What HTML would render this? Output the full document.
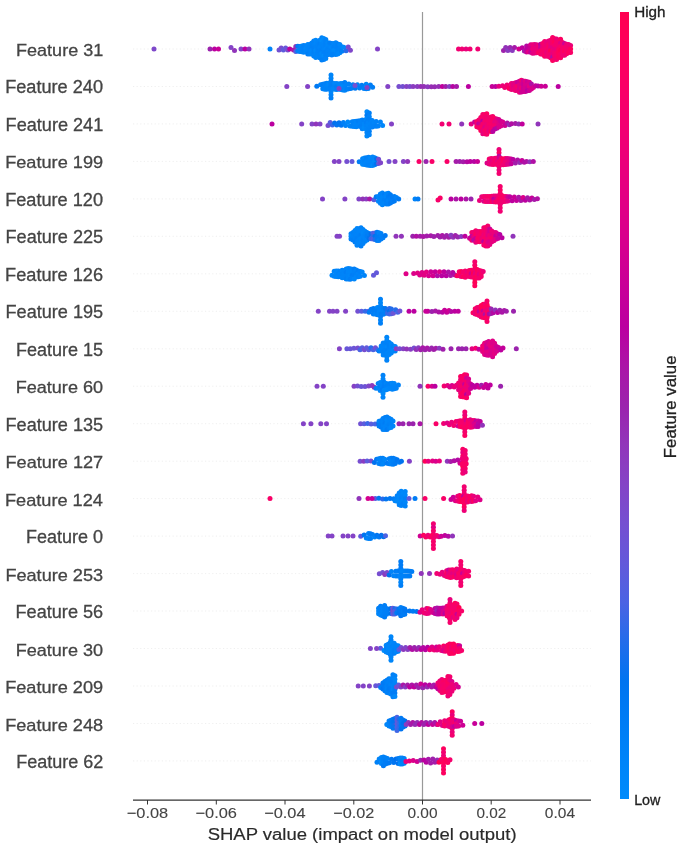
<!DOCTYPE html>
<html><head><meta charset="utf-8"><style>
html,body{margin:0;padding:0;background:#fff;}
body{width:685px;height:854px;overflow:hidden;}
svg{display:block;font-family:"Liberation Sans",sans-serif;filter:blur(0.45px);}
</style></head><body>
<svg width="685" height="854" viewBox="0 0 685 854">
<defs><linearGradient id="cb" x1="0" y1="0" x2="0" y2="1">
<stop offset="0.000" stop-color="#ff0051"/>
<stop offset="0.050" stop-color="#fe005c"/>
<stop offset="0.100" stop-color="#f90067"/>
<stop offset="0.150" stop-color="#f20072"/>
<stop offset="0.200" stop-color="#e9007c"/>
<stop offset="0.250" stop-color="#e00086"/>
<stop offset="0.300" stop-color="#d5008f"/>
<stop offset="0.350" stop-color="#c80098"/>
<stop offset="0.400" stop-color="#bb00a0"/>
<stop offset="0.450" stop-color="#ab15a7"/>
<stop offset="0.500" stop-color="#9b23ad"/>
<stop offset="0.550" stop-color="#9135ba"/>
<stop offset="0.600" stop-color="#8443c6"/>
<stop offset="0.650" stop-color="#754fd1"/>
<stop offset="0.700" stop-color="#6359da"/>
<stop offset="0.750" stop-color="#4b63e3"/>
<stop offset="0.800" stop-color="#236cea"/>
<stop offset="0.850" stop-color="#0074f0"/>
<stop offset="0.900" stop-color="#007cf5"/>
<stop offset="0.950" stop-color="#0084f9"/>
<stop offset="1.000" stop-color="#008bfb"/>
</linearGradient></defs>
<g stroke="#ebebeb" stroke-width="0.8" stroke-dasharray="1.2 2.4">
<line x1="133" x2="591" y1="49.0" y2="49.0"/>
<line x1="133" x2="591" y1="86.5" y2="86.5"/>
<line x1="133" x2="591" y1="123.9" y2="123.9"/>
<line x1="133" x2="591" y1="161.4" y2="161.4"/>
<line x1="133" x2="591" y1="198.9" y2="198.9"/>
<line x1="133" x2="591" y1="236.3" y2="236.3"/>
<line x1="133" x2="591" y1="273.8" y2="273.8"/>
<line x1="133" x2="591" y1="311.3" y2="311.3"/>
<line x1="133" x2="591" y1="348.8" y2="348.8"/>
<line x1="133" x2="591" y1="386.2" y2="386.2"/>
<line x1="133" x2="591" y1="423.7" y2="423.7"/>
<line x1="133" x2="591" y1="461.2" y2="461.2"/>
<line x1="133" x2="591" y1="498.6" y2="498.6"/>
<line x1="133" x2="591" y1="536.1" y2="536.1"/>
<line x1="133" x2="591" y1="573.6" y2="573.6"/>
<line x1="133" x2="591" y1="611.0" y2="611.0"/>
<line x1="133" x2="591" y1="648.5" y2="648.5"/>
<line x1="133" x2="591" y1="686.0" y2="686.0"/>
<line x1="133" x2="591" y1="723.5" y2="723.5"/>
<line x1="133" x2="591" y1="760.9" y2="760.9"/>
</g>
<line x1="422.5" x2="422.5" y1="12" y2="800" stroke="#999" stroke-width="1.2"/>
<g>
<circle cx="279.0" cy="50.1" r="2.50" fill="#7250d2"/>
<circle cx="281.2" cy="47.9" r="2.50" fill="#784dcf"/>
<circle cx="283.4" cy="50.1" r="2.50" fill="#5e5cdc"/>
<circle cx="285.6" cy="47.9" r="2.50" fill="#6857d8"/>
<circle cx="287.8" cy="50.1" r="2.50" fill="#794cce"/>
<circle cx="289.8" cy="49.0" r="2.50" fill="#bd009e"/>
<circle cx="293.6" cy="49.9" r="2.50" fill="#a819a8"/>
<circle cx="295.8" cy="46.5" r="2.50" fill="#9035ba"/>
<circle cx="295.8" cy="51.5" r="2.50" fill="#565fe0"/>
<circle cx="297.8" cy="46.3" r="2.50" fill="#007af4"/>
<circle cx="297.8" cy="51.0" r="2.50" fill="#0081f8"/>
<circle cx="299.8" cy="46.4" r="2.50" fill="#007ff6"/>
<circle cx="299.8" cy="49.0" r="2.50" fill="#0083f8"/>
<circle cx="299.8" cy="51.6" r="2.50" fill="#0083f8"/>
<circle cx="301.8" cy="46.1" r="2.50" fill="#0086f9"/>
<circle cx="301.8" cy="48.9" r="2.50" fill="#0083f8"/>
<circle cx="301.8" cy="51.7" r="2.50" fill="#0083f8"/>
<circle cx="303.8" cy="45.5" r="2.50" fill="#0080f7"/>
<circle cx="303.8" cy="48.9" r="2.50" fill="#0081f8"/>
<circle cx="303.8" cy="52.3" r="2.50" fill="#0082f8"/>
<circle cx="305.8" cy="45.8" r="2.50" fill="#0083f8"/>
<circle cx="305.8" cy="48.7" r="2.50" fill="#0087fa"/>
<circle cx="305.8" cy="51.7" r="2.50" fill="#0085f9"/>
<circle cx="307.8" cy="44.6" r="2.50" fill="#0087fa"/>
<circle cx="307.8" cy="47.7" r="2.50" fill="#0084f9"/>
<circle cx="307.8" cy="50.8" r="2.50" fill="#0084f9"/>
<circle cx="307.8" cy="53.9" r="2.50" fill="#007ef6"/>
<circle cx="309.8" cy="44.5" r="2.50" fill="#0084f9"/>
<circle cx="309.8" cy="47.6" r="2.50" fill="#0083f8"/>
<circle cx="309.8" cy="50.7" r="2.50" fill="#0082f8"/>
<circle cx="309.8" cy="53.9" r="2.50" fill="#0082f8"/>
<circle cx="311.8" cy="43.0" r="2.50" fill="#0082f8"/>
<circle cx="311.8" cy="46.7" r="2.50" fill="#0080f7"/>
<circle cx="311.8" cy="50.4" r="2.50" fill="#0087fa"/>
<circle cx="311.8" cy="54.0" r="2.50" fill="#0086f9"/>
<circle cx="313.8" cy="41.0" r="2.50" fill="#0082f8"/>
<circle cx="313.8" cy="44.7" r="2.50" fill="#0083f8"/>
<circle cx="313.8" cy="48.5" r="2.50" fill="#0080f7"/>
<circle cx="313.8" cy="52.3" r="2.50" fill="#0081f7"/>
<circle cx="313.8" cy="56.1" r="2.50" fill="#0084f9"/>
<circle cx="315.8" cy="40.3" r="2.50" fill="#0087fa"/>
<circle cx="315.8" cy="43.7" r="2.50" fill="#0086fa"/>
<circle cx="315.8" cy="47.1" r="2.50" fill="#0083f8"/>
<circle cx="315.8" cy="50.5" r="2.50" fill="#0089fa"/>
<circle cx="315.8" cy="54.0" r="2.50" fill="#0085f9"/>
<circle cx="315.8" cy="57.4" r="2.50" fill="#0083f8"/>
<circle cx="317.8" cy="41.8" r="2.50" fill="#0084f9"/>
<circle cx="317.8" cy="45.4" r="2.50" fill="#0083f8"/>
<circle cx="317.8" cy="49.1" r="2.50" fill="#0081f8"/>
<circle cx="317.8" cy="52.7" r="2.50" fill="#0082f8"/>
<circle cx="317.8" cy="56.4" r="2.50" fill="#0085f9"/>
<circle cx="319.8" cy="40.2" r="2.50" fill="#0085f9"/>
<circle cx="319.8" cy="43.7" r="2.50" fill="#0080f7"/>
<circle cx="319.8" cy="47.3" r="2.50" fill="#0084f9"/>
<circle cx="319.8" cy="50.8" r="2.50" fill="#0082f8"/>
<circle cx="319.8" cy="54.3" r="2.50" fill="#0082f8"/>
<circle cx="319.8" cy="57.8" r="2.50" fill="#0083f8"/>
<circle cx="321.8" cy="37.7" r="2.50" fill="#0083f8"/>
<circle cx="321.8" cy="40.8" r="2.50" fill="#008bfb"/>
<circle cx="321.8" cy="44.0" r="2.50" fill="#0085f9"/>
<circle cx="321.8" cy="47.2" r="2.50" fill="#0084f9"/>
<circle cx="321.8" cy="50.4" r="2.50" fill="#0081f7"/>
<circle cx="321.8" cy="53.5" r="2.50" fill="#0088fa"/>
<circle cx="321.8" cy="56.7" r="2.50" fill="#0085f9"/>
<circle cx="321.8" cy="59.9" r="2.50" fill="#0080f7"/>
<circle cx="323.8" cy="38.4" r="2.50" fill="#008bfb"/>
<circle cx="323.8" cy="41.9" r="2.50" fill="#0086fa"/>
<circle cx="323.8" cy="45.5" r="2.50" fill="#0084f9"/>
<circle cx="323.8" cy="49.0" r="2.50" fill="#0084f9"/>
<circle cx="323.8" cy="52.5" r="2.50" fill="#0081f8"/>
<circle cx="323.8" cy="56.1" r="2.50" fill="#008afb"/>
<circle cx="323.8" cy="59.6" r="2.50" fill="#0081f8"/>
<circle cx="325.8" cy="39.4" r="2.50" fill="#0083f8"/>
<circle cx="325.8" cy="42.6" r="2.50" fill="#0082f8"/>
<circle cx="325.8" cy="45.8" r="2.50" fill="#0082f8"/>
<circle cx="325.8" cy="48.9" r="2.50" fill="#0086fa"/>
<circle cx="325.8" cy="52.1" r="2.50" fill="#0080f7"/>
<circle cx="325.8" cy="55.2" r="2.50" fill="#0081f8"/>
<circle cx="325.8" cy="58.4" r="2.50" fill="#0084f9"/>
<circle cx="327.8" cy="42.7" r="2.50" fill="#0087fa"/>
<circle cx="327.8" cy="45.7" r="2.50" fill="#0086f9"/>
<circle cx="327.8" cy="48.7" r="2.50" fill="#0082f8"/>
<circle cx="327.8" cy="51.7" r="2.50" fill="#0083f8"/>
<circle cx="327.8" cy="54.7" r="2.50" fill="#0082f8"/>
<circle cx="329.8" cy="43.1" r="2.50" fill="#007ff7"/>
<circle cx="329.8" cy="46.8" r="2.50" fill="#0084f9"/>
<circle cx="329.8" cy="50.4" r="2.50" fill="#0083f8"/>
<circle cx="329.8" cy="54.1" r="2.50" fill="#0083f8"/>
<circle cx="331.8" cy="43.5" r="2.50" fill="#0080f7"/>
<circle cx="331.8" cy="47.3" r="2.50" fill="#0087fa"/>
<circle cx="331.8" cy="51.2" r="2.50" fill="#0084f9"/>
<circle cx="331.8" cy="55.0" r="2.50" fill="#0082f8"/>
<circle cx="333.8" cy="43.6" r="2.50" fill="#0086f9"/>
<circle cx="333.8" cy="47.1" r="2.50" fill="#0081f7"/>
<circle cx="333.8" cy="50.6" r="2.50" fill="#0089fa"/>
<circle cx="333.8" cy="54.0" r="2.50" fill="#0081f7"/>
<circle cx="335.8" cy="42.8" r="2.50" fill="#0084f9"/>
<circle cx="335.8" cy="46.7" r="2.50" fill="#0083f8"/>
<circle cx="335.8" cy="50.7" r="2.50" fill="#0088fa"/>
<circle cx="335.8" cy="54.6" r="2.50" fill="#0083f8"/>
<circle cx="337.8" cy="44.1" r="2.50" fill="#0081f7"/>
<circle cx="337.8" cy="47.4" r="2.50" fill="#0081f8"/>
<circle cx="337.8" cy="50.7" r="2.50" fill="#0083f8"/>
<circle cx="337.8" cy="53.9" r="2.50" fill="#0087fa"/>
<circle cx="339.8" cy="44.6" r="2.50" fill="#0087fa"/>
<circle cx="339.8" cy="48.7" r="2.50" fill="#0084f9"/>
<circle cx="339.8" cy="52.8" r="2.50" fill="#0087fa"/>
<circle cx="341.8" cy="46.8" r="2.50" fill="#0084f9"/>
<circle cx="341.8" cy="51.2" r="2.50" fill="#007ff6"/>
<circle cx="343.8" cy="47.2" r="2.50" fill="#0088fa"/>
<circle cx="346.0" cy="50.8" r="2.50" fill="#276cea"/>
<circle cx="348.2" cy="47.0" r="2.50" fill="#7a4bcd"/>
<circle cx="350.4" cy="50.3" r="2.50" fill="#7f47ca"/>
<circle cx="503.5" cy="50.4" r="2.50" fill="#9d21ac"/>
<circle cx="505.7" cy="47.6" r="2.50" fill="#9232b8"/>
<circle cx="507.9" cy="50.4" r="2.50" fill="#8a3cc0"/>
<circle cx="510.1" cy="47.6" r="2.50" fill="#9829b1"/>
<circle cx="512.3" cy="50.4" r="2.50" fill="#8b3bbf"/>
<circle cx="514.5" cy="47.6" r="2.50" fill="#a61aa9"/>
<circle cx="518.9" cy="49.0" r="2.50" fill="#d30090"/>
<circle cx="522.2" cy="47.8" r="2.50" fill="#bf009d"/>
<circle cx="524.4" cy="50.9" r="2.50" fill="#a51ba9"/>
<circle cx="526.6" cy="46.1" r="2.50" fill="#b30aa3"/>
<circle cx="526.6" cy="49.0" r="2.50" fill="#c1009c"/>
<circle cx="526.6" cy="51.9" r="2.50" fill="#ca0097"/>
<circle cx="528.6" cy="46.7" r="2.50" fill="#c4009a"/>
<circle cx="528.6" cy="51.7" r="2.50" fill="#e20084"/>
<circle cx="530.6" cy="44.7" r="2.50" fill="#db008a"/>
<circle cx="530.6" cy="48.5" r="2.50" fill="#cf0093"/>
<circle cx="530.6" cy="52.3" r="2.50" fill="#c3009b"/>
<circle cx="532.6" cy="44.7" r="2.50" fill="#ea007b"/>
<circle cx="532.6" cy="48.9" r="2.50" fill="#ee0076"/>
<circle cx="532.6" cy="53.2" r="2.50" fill="#e00085"/>
<circle cx="534.6" cy="44.6" r="2.50" fill="#eb0079"/>
<circle cx="534.6" cy="48.8" r="2.50" fill="#eb007a"/>
<circle cx="534.6" cy="53.0" r="2.50" fill="#e6007f"/>
<circle cx="536.6" cy="44.7" r="2.50" fill="#de0087"/>
<circle cx="536.6" cy="48.8" r="2.50" fill="#ec0079"/>
<circle cx="536.6" cy="52.8" r="2.50" fill="#ec0079"/>
<circle cx="538.6" cy="45.3" r="2.50" fill="#f10073"/>
<circle cx="538.6" cy="48.9" r="2.50" fill="#ed0077"/>
<circle cx="538.6" cy="52.6" r="2.50" fill="#fc0060"/>
<circle cx="540.6" cy="44.2" r="2.50" fill="#b703a1"/>
<circle cx="540.6" cy="47.5" r="2.50" fill="#cb0096"/>
<circle cx="540.6" cy="50.7" r="2.50" fill="#f5006c"/>
<circle cx="540.6" cy="54.0" r="2.50" fill="#f90066"/>
<circle cx="542.6" cy="43.4" r="2.50" fill="#f6006b"/>
<circle cx="542.6" cy="47.0" r="2.50" fill="#eb0079"/>
<circle cx="542.6" cy="50.6" r="2.50" fill="#f90067"/>
<circle cx="542.6" cy="54.2" r="2.50" fill="#f20072"/>
<circle cx="544.6" cy="41.5" r="2.50" fill="#f6006b"/>
<circle cx="544.6" cy="45.2" r="2.50" fill="#f4006e"/>
<circle cx="544.6" cy="48.9" r="2.50" fill="#f30070"/>
<circle cx="544.6" cy="52.6" r="2.50" fill="#f7006a"/>
<circle cx="544.6" cy="56.3" r="2.50" fill="#fa0065"/>
<circle cx="546.6" cy="42.1" r="2.50" fill="#ea007b"/>
<circle cx="546.6" cy="45.6" r="2.50" fill="#ed0077"/>
<circle cx="546.6" cy="49.0" r="2.50" fill="#f5006d"/>
<circle cx="546.6" cy="52.5" r="2.50" fill="#ed0077"/>
<circle cx="546.6" cy="55.9" r="2.50" fill="#f10072"/>
<circle cx="548.6" cy="41.1" r="2.50" fill="#ea007b"/>
<circle cx="548.6" cy="44.2" r="2.50" fill="#f5006e"/>
<circle cx="548.6" cy="47.3" r="2.50" fill="#f90067"/>
<circle cx="548.6" cy="50.3" r="2.50" fill="#f3006f"/>
<circle cx="548.6" cy="53.4" r="2.50" fill="#f5006d"/>
<circle cx="548.6" cy="56.5" r="2.50" fill="#f4006f"/>
<circle cx="550.6" cy="40.3" r="2.50" fill="#ed0078"/>
<circle cx="550.6" cy="43.7" r="2.50" fill="#e9007d"/>
<circle cx="550.6" cy="47.2" r="2.50" fill="#e8007d"/>
<circle cx="550.6" cy="50.7" r="2.50" fill="#ff0053"/>
<circle cx="550.6" cy="54.2" r="2.50" fill="#f20071"/>
<circle cx="550.6" cy="57.7" r="2.50" fill="#f20072"/>
<circle cx="552.6" cy="37.5" r="2.50" fill="#f90067"/>
<circle cx="552.6" cy="40.8" r="2.50" fill="#fa0065"/>
<circle cx="552.6" cy="44.1" r="2.50" fill="#f80068"/>
<circle cx="552.6" cy="47.4" r="2.50" fill="#e50081"/>
<circle cx="552.6" cy="50.7" r="2.50" fill="#ef0075"/>
<circle cx="552.6" cy="54.0" r="2.50" fill="#e8007d"/>
<circle cx="552.6" cy="57.3" r="2.50" fill="#b20da4"/>
<circle cx="552.6" cy="60.6" r="2.50" fill="#fd005f"/>
<circle cx="554.6" cy="38.8" r="2.50" fill="#fb0062"/>
<circle cx="554.6" cy="42.2" r="2.50" fill="#ff005b"/>
<circle cx="554.6" cy="45.6" r="2.50" fill="#f4006e"/>
<circle cx="554.6" cy="49.0" r="2.50" fill="#e8007d"/>
<circle cx="554.6" cy="52.4" r="2.50" fill="#f20072"/>
<circle cx="554.6" cy="55.8" r="2.50" fill="#f4006f"/>
<circle cx="554.6" cy="59.2" r="2.50" fill="#f7006a"/>
<circle cx="556.6" cy="39.0" r="2.50" fill="#ec0078"/>
<circle cx="556.6" cy="42.5" r="2.50" fill="#f4006e"/>
<circle cx="556.6" cy="45.9" r="2.50" fill="#f5006d"/>
<circle cx="556.6" cy="49.3" r="2.50" fill="#e9007c"/>
<circle cx="556.6" cy="52.8" r="2.50" fill="#f70069"/>
<circle cx="556.6" cy="56.2" r="2.50" fill="#f80068"/>
<circle cx="556.6" cy="59.6" r="2.50" fill="#f30070"/>
<circle cx="558.6" cy="41.6" r="2.50" fill="#f4006e"/>
<circle cx="558.6" cy="45.4" r="2.50" fill="#f20071"/>
<circle cx="558.6" cy="49.2" r="2.50" fill="#fc0061"/>
<circle cx="558.6" cy="53.1" r="2.50" fill="#fe005d"/>
<circle cx="558.6" cy="56.9" r="2.50" fill="#fd005e"/>
<circle cx="560.6" cy="39.2" r="2.50" fill="#fc0061"/>
<circle cx="560.6" cy="42.9" r="2.50" fill="#e00085"/>
<circle cx="560.6" cy="46.6" r="2.50" fill="#f90067"/>
<circle cx="560.6" cy="50.3" r="2.50" fill="#ff0054"/>
<circle cx="560.6" cy="54.0" r="2.50" fill="#fa0065"/>
<circle cx="560.6" cy="57.7" r="2.50" fill="#fb0063"/>
<circle cx="562.6" cy="42.4" r="2.50" fill="#f3006f"/>
<circle cx="562.6" cy="45.6" r="2.50" fill="#f00074"/>
<circle cx="562.6" cy="48.8" r="2.50" fill="#f5006c"/>
<circle cx="562.6" cy="52.0" r="2.50" fill="#f5006d"/>
<circle cx="562.6" cy="55.2" r="2.50" fill="#f4006f"/>
<circle cx="564.6" cy="43.4" r="2.50" fill="#cb0096"/>
<circle cx="564.6" cy="47.4" r="2.50" fill="#f90067"/>
<circle cx="564.6" cy="51.3" r="2.50" fill="#fe005d"/>
<circle cx="564.6" cy="55.2" r="2.50" fill="#f00074"/>
<circle cx="566.6" cy="44.3" r="2.50" fill="#ef0075"/>
<circle cx="566.6" cy="47.5" r="2.50" fill="#f20072"/>
<circle cx="566.6" cy="50.6" r="2.50" fill="#f80068"/>
<circle cx="566.6" cy="53.7" r="2.50" fill="#f6006b"/>
<circle cx="568.6" cy="44.5" r="2.50" fill="#f10073"/>
<circle cx="568.6" cy="48.6" r="2.50" fill="#f5006c"/>
<circle cx="568.6" cy="52.6" r="2.50" fill="#fe005d"/>
<circle cx="570.6" cy="45.4" r="2.50" fill="#ec0078"/>
<circle cx="570.6" cy="49.0" r="2.50" fill="#ff005b"/>
<circle cx="570.6" cy="52.6" r="2.50" fill="#f90066"/>
<circle cx="154.0" cy="49.0" r="2.50" fill="#7e48ca"/>
<circle cx="210.0" cy="49.0" r="2.50" fill="#9b23ad"/>
<circle cx="214.5" cy="49.0" r="2.50" fill="#bb00a0"/>
<circle cx="218.5" cy="49.0" r="2.50" fill="#c80098"/>
<circle cx="231.0" cy="47.5" r="2.50" fill="#8443c6"/>
<circle cx="234.5" cy="50.5" r="2.50" fill="#9135ba"/>
<circle cx="241.0" cy="49.0" r="2.50" fill="#8443c6"/>
<circle cx="245.0" cy="49.0" r="2.50" fill="#bb00a0"/>
<circle cx="249.0" cy="49.0" r="2.50" fill="#9135ba"/>
<circle cx="270.0" cy="49.0" r="2.50" fill="#0084f9"/>
<circle cx="377.5" cy="49.0" r="2.50" fill="#8443c6"/>
<circle cx="458.5" cy="49.0" r="2.50" fill="#f20072"/>
<circle cx="462.0" cy="49.0" r="2.50" fill="#f20072"/>
<circle cx="466.0" cy="49.0" r="2.50" fill="#e9007c"/>
<circle cx="470.0" cy="49.0" r="2.50" fill="#f20072"/>
<circle cx="477.8" cy="49.0" r="2.50" fill="#f20072"/>
<circle cx="331.0" cy="75.0" r="2.50" fill="#0085f9"/>
<circle cx="331.0" cy="78.3" r="2.50" fill="#0085f9"/>
<circle cx="331.0" cy="81.5" r="2.50" fill="#0081f7"/>
<circle cx="331.0" cy="84.8" r="2.50" fill="#0081f7"/>
<circle cx="331.0" cy="88.1" r="2.50" fill="#0084f9"/>
<circle cx="331.0" cy="91.4" r="2.50" fill="#008bfb"/>
<circle cx="331.0" cy="94.7" r="2.50" fill="#0084f9"/>
<circle cx="331.0" cy="98.0" r="2.50" fill="#0080f7"/>
<circle cx="316.8" cy="86.2" r="2.50" fill="#0079f3"/>
<circle cx="320.6" cy="84.7" r="2.50" fill="#0082f8"/>
<circle cx="322.8" cy="84.2" r="2.50" fill="#007ef6"/>
<circle cx="322.8" cy="88.7" r="2.50" fill="#0082f8"/>
<circle cx="324.8" cy="83.8" r="2.50" fill="#0081f8"/>
<circle cx="324.8" cy="86.5" r="2.50" fill="#0082f8"/>
<circle cx="324.8" cy="89.2" r="2.50" fill="#0084f9"/>
<circle cx="326.8" cy="83.2" r="2.50" fill="#0080f7"/>
<circle cx="326.8" cy="86.3" r="2.50" fill="#0085f9"/>
<circle cx="326.8" cy="89.3" r="2.50" fill="#0082f8"/>
<circle cx="328.8" cy="83.3" r="2.50" fill="#0087fa"/>
<circle cx="328.8" cy="86.0" r="2.50" fill="#0087fa"/>
<circle cx="328.8" cy="88.6" r="2.50" fill="#0083f8"/>
<circle cx="330.8" cy="83.2" r="2.50" fill="#0080f7"/>
<circle cx="330.8" cy="86.4" r="2.50" fill="#007ff6"/>
<circle cx="330.8" cy="89.6" r="2.50" fill="#0082f8"/>
<circle cx="332.8" cy="83.6" r="2.50" fill="#007ef6"/>
<circle cx="332.8" cy="88.7" r="2.50" fill="#0085f9"/>
<circle cx="334.8" cy="83.6" r="2.50" fill="#0087fa"/>
<circle cx="334.8" cy="86.4" r="2.50" fill="#0083f8"/>
<circle cx="334.8" cy="89.2" r="2.50" fill="#0086f9"/>
<circle cx="336.8" cy="83.5" r="2.50" fill="#0086fa"/>
<circle cx="336.8" cy="86.5" r="2.50" fill="#007ef6"/>
<circle cx="336.8" cy="89.4" r="2.50" fill="#0081f8"/>
<circle cx="338.8" cy="83.9" r="2.50" fill="#0084f9"/>
<circle cx="338.8" cy="89.0" r="2.50" fill="#0084f9"/>
<circle cx="340.8" cy="83.5" r="2.50" fill="#0085f9"/>
<circle cx="340.8" cy="86.5" r="2.50" fill="#0086f9"/>
<circle cx="340.8" cy="89.4" r="2.50" fill="#0086f9"/>
<circle cx="342.8" cy="83.4" r="2.50" fill="#0083f8"/>
<circle cx="342.8" cy="86.7" r="2.50" fill="#0089fa"/>
<circle cx="342.8" cy="90.0" r="2.50" fill="#0080f7"/>
<circle cx="344.8" cy="82.4" r="2.50" fill="#007df6"/>
<circle cx="344.8" cy="86.3" r="2.50" fill="#0083f8"/>
<circle cx="344.8" cy="90.2" r="2.50" fill="#0086f9"/>
<circle cx="346.8" cy="84.3" r="2.50" fill="#0082f8"/>
<circle cx="346.8" cy="89.2" r="2.50" fill="#007ff7"/>
<circle cx="348.8" cy="84.1" r="2.50" fill="#0081f7"/>
<circle cx="348.8" cy="88.8" r="2.50" fill="#0080f7"/>
<circle cx="350.8" cy="88.5" r="2.50" fill="#007cf5"/>
<circle cx="353.0" cy="84.8" r="2.50" fill="#007ff6"/>
<circle cx="355.2" cy="88.2" r="2.50" fill="#0079f3"/>
<circle cx="357.4" cy="84.8" r="2.50" fill="#0081f7"/>
<circle cx="359.6" cy="88.0" r="2.50" fill="#007ef6"/>
<circle cx="361.8" cy="85.2" r="2.50" fill="#007df5"/>
<circle cx="364.0" cy="88.4" r="2.50" fill="#0081f8"/>
<circle cx="366.2" cy="84.2" r="2.50" fill="#0084f9"/>
<circle cx="366.2" cy="88.7" r="2.50" fill="#007ef6"/>
<circle cx="368.2" cy="88.5" r="2.50" fill="#0081f8"/>
<circle cx="370.4" cy="84.9" r="2.50" fill="#007ef6"/>
<circle cx="372.6" cy="87.3" r="2.50" fill="#007ef6"/>
<circle cx="398.9" cy="86.5" r="2.50" fill="#774dcf"/>
<circle cx="402.7" cy="86.5" r="2.50" fill="#744fd1"/>
<circle cx="406.5" cy="86.5" r="2.50" fill="#8542c5"/>
<circle cx="409.9" cy="86.5" r="2.50" fill="#7c49cc"/>
<circle cx="413.1" cy="86.4" r="2.50" fill="#8b3cc0"/>
<circle cx="417.3" cy="86.4" r="2.50" fill="#8a3cc0"/>
<circle cx="420.8" cy="86.6" r="2.50" fill="#952eb5"/>
<circle cx="423.9" cy="86.5" r="2.50" fill="#9430b6"/>
<circle cx="427.7" cy="86.7" r="2.50" fill="#8d3abe"/>
<circle cx="431.3" cy="86.7" r="2.50" fill="#962db3"/>
<circle cx="434.7" cy="86.7" r="2.50" fill="#962cb3"/>
<circle cx="438.7" cy="86.6" r="2.50" fill="#952fb5"/>
<circle cx="442.3" cy="86.4" r="2.50" fill="#c1009c"/>
<circle cx="445.7" cy="86.4" r="2.50" fill="#a01fab"/>
<circle cx="449.5" cy="86.5" r="2.50" fill="#873fc3"/>
<circle cx="452.8" cy="86.5" r="2.50" fill="#b605a2"/>
<circle cx="456.5" cy="86.5" r="2.50" fill="#a61aa9"/>
<circle cx="492.1" cy="86.5" r="2.50" fill="#c60099"/>
<circle cx="495.6" cy="86.5" r="2.50" fill="#bd009e"/>
<circle cx="498.9" cy="86.3" r="2.50" fill="#e60080"/>
<circle cx="502.6" cy="85.7" r="2.50" fill="#ec0078"/>
<circle cx="504.8" cy="87.4" r="2.50" fill="#f10073"/>
<circle cx="507.0" cy="84.9" r="2.50" fill="#f20072"/>
<circle cx="509.2" cy="88.6" r="2.50" fill="#fd0060"/>
<circle cx="511.4" cy="83.5" r="2.50" fill="#eb007a"/>
<circle cx="511.4" cy="86.5" r="2.50" fill="#f00074"/>
<circle cx="511.4" cy="89.4" r="2.50" fill="#ef0076"/>
<circle cx="513.4" cy="83.4" r="2.50" fill="#e10085"/>
<circle cx="513.4" cy="86.3" r="2.50" fill="#e10084"/>
<circle cx="513.4" cy="89.3" r="2.50" fill="#e9007d"/>
<circle cx="515.4" cy="82.7" r="2.50" fill="#e40081"/>
<circle cx="515.4" cy="86.6" r="2.50" fill="#eb007a"/>
<circle cx="515.4" cy="90.6" r="2.50" fill="#ef0075"/>
<circle cx="517.4" cy="82.2" r="2.50" fill="#c90097"/>
<circle cx="517.4" cy="86.3" r="2.50" fill="#f5006d"/>
<circle cx="517.4" cy="90.4" r="2.50" fill="#ea007c"/>
<circle cx="519.4" cy="81.2" r="2.50" fill="#d20091"/>
<circle cx="519.4" cy="84.9" r="2.50" fill="#e30082"/>
<circle cx="519.4" cy="88.5" r="2.50" fill="#df0086"/>
<circle cx="519.4" cy="92.2" r="2.50" fill="#ea007b"/>
<circle cx="521.4" cy="80.3" r="2.50" fill="#f3006f"/>
<circle cx="521.4" cy="84.2" r="2.50" fill="#db0089"/>
<circle cx="521.4" cy="88.1" r="2.50" fill="#ed0077"/>
<circle cx="521.4" cy="92.0" r="2.50" fill="#d00093"/>
<circle cx="523.4" cy="81.1" r="2.50" fill="#cf0093"/>
<circle cx="523.4" cy="84.6" r="2.50" fill="#ca0096"/>
<circle cx="523.4" cy="88.1" r="2.50" fill="#ce0094"/>
<circle cx="523.4" cy="91.5" r="2.50" fill="#d00092"/>
<circle cx="525.4" cy="81.2" r="2.50" fill="#e20083"/>
<circle cx="525.4" cy="84.7" r="2.50" fill="#d9008c"/>
<circle cx="525.4" cy="88.1" r="2.50" fill="#d6008e"/>
<circle cx="525.4" cy="91.6" r="2.50" fill="#d10092"/>
<circle cx="527.4" cy="81.8" r="2.50" fill="#cc0095"/>
<circle cx="527.4" cy="84.8" r="2.50" fill="#da008b"/>
<circle cx="527.4" cy="87.8" r="2.50" fill="#cd0094"/>
<circle cx="527.4" cy="90.8" r="2.50" fill="#ba00a0"/>
<circle cx="529.4" cy="82.3" r="2.50" fill="#d9008c"/>
<circle cx="529.4" cy="86.4" r="2.50" fill="#e50081"/>
<circle cx="529.4" cy="90.5" r="2.50" fill="#ce0094"/>
<circle cx="531.4" cy="83.9" r="2.50" fill="#b10ea4"/>
<circle cx="531.4" cy="89.0" r="2.50" fill="#d7008d"/>
<circle cx="533.4" cy="87.4" r="2.50" fill="#d7008d"/>
<circle cx="535.6" cy="85.7" r="2.50" fill="#c70099"/>
<circle cx="538.0" cy="85.9" r="2.50" fill="#b802a1"/>
<circle cx="541.2" cy="86.3" r="2.50" fill="#cc0095"/>
<circle cx="545.3" cy="86.3" r="2.50" fill="#c90097"/>
<circle cx="286.8" cy="86.5" r="2.50" fill="#8443c6"/>
<circle cx="307.6" cy="86.5" r="2.50" fill="#8443c6"/>
<circle cx="387.8" cy="86.5" r="2.50" fill="#8443c6"/>
<circle cx="468.4" cy="86.5" r="2.50" fill="#bb00a0"/>
<circle cx="558.2" cy="86.5" r="2.50" fill="#bb00a0"/>
<circle cx="339.0" cy="88.5" r="2.50" fill="#8443c6"/>
<circle cx="355.0" cy="85.5" r="2.50" fill="#754fd1"/>
<circle cx="367.0" cy="87.5" r="2.50" fill="#8443c6"/>
<circle cx="366.9" cy="111.8" r="2.50" fill="#008afb"/>
<circle cx="366.9" cy="115.3" r="2.50" fill="#007cf5"/>
<circle cx="366.9" cy="118.8" r="2.50" fill="#0086fa"/>
<circle cx="366.9" cy="122.2" r="2.50" fill="#0081f7"/>
<circle cx="366.9" cy="125.7" r="2.50" fill="#0085f9"/>
<circle cx="366.9" cy="129.1" r="2.50" fill="#0083f8"/>
<circle cx="366.9" cy="132.6" r="2.50" fill="#0085f9"/>
<circle cx="366.9" cy="136.0" r="2.50" fill="#0088fa"/>
<circle cx="369.3" cy="113.0" r="2.50" fill="#0080f7"/>
<circle cx="369.3" cy="116.7" r="2.50" fill="#0083f8"/>
<circle cx="369.3" cy="120.3" r="2.50" fill="#0081f7"/>
<circle cx="369.3" cy="123.9" r="2.50" fill="#0082f8"/>
<circle cx="369.3" cy="127.6" r="2.50" fill="#0082f8"/>
<circle cx="369.3" cy="131.2" r="2.50" fill="#0080f7"/>
<circle cx="369.3" cy="134.8" r="2.50" fill="#0083f8"/>
<circle cx="328.0" cy="125.4" r="2.50" fill="#794cce"/>
<circle cx="330.2" cy="122.6" r="2.50" fill="#5b5dde"/>
<circle cx="332.4" cy="125.0" r="2.50" fill="#3b67e7"/>
<circle cx="334.6" cy="122.9" r="2.50" fill="#0070ed"/>
<circle cx="336.8" cy="125.0" r="2.50" fill="#0075f1"/>
<circle cx="339.0" cy="122.7" r="2.50" fill="#0074f0"/>
<circle cx="341.2" cy="125.3" r="2.50" fill="#0077f2"/>
<circle cx="343.4" cy="122.4" r="2.50" fill="#0080f7"/>
<circle cx="345.6" cy="125.6" r="2.50" fill="#0083f8"/>
<circle cx="347.8" cy="122.1" r="2.50" fill="#0088fa"/>
<circle cx="350.0" cy="125.9" r="2.50" fill="#0085f9"/>
<circle cx="352.2" cy="121.7" r="2.50" fill="#0083f8"/>
<circle cx="352.2" cy="126.2" r="2.50" fill="#0081f7"/>
<circle cx="354.2" cy="121.4" r="2.50" fill="#0082f8"/>
<circle cx="354.2" cy="126.5" r="2.50" fill="#0084f9"/>
<circle cx="356.2" cy="121.2" r="2.50" fill="#0085f9"/>
<circle cx="356.2" cy="123.9" r="2.50" fill="#0085f9"/>
<circle cx="356.2" cy="126.7" r="2.50" fill="#0084f9"/>
<circle cx="358.2" cy="121.1" r="2.50" fill="#007ff6"/>
<circle cx="358.2" cy="125.8" r="2.50" fill="#0084f9"/>
<circle cx="360.2" cy="120.7" r="2.50" fill="#0082f8"/>
<circle cx="360.2" cy="123.6" r="2.50" fill="#0084f9"/>
<circle cx="360.2" cy="126.6" r="2.50" fill="#0081f8"/>
<circle cx="362.2" cy="120.1" r="2.50" fill="#0083f8"/>
<circle cx="362.2" cy="122.9" r="2.50" fill="#0082f8"/>
<circle cx="362.2" cy="125.8" r="2.50" fill="#0081f7"/>
<circle cx="362.2" cy="128.7" r="2.50" fill="#0084f9"/>
<circle cx="364.2" cy="120.2" r="2.50" fill="#0080f7"/>
<circle cx="364.2" cy="124.0" r="2.50" fill="#0086f9"/>
<circle cx="364.2" cy="127.8" r="2.50" fill="#0089fa"/>
<circle cx="366.2" cy="119.4" r="2.50" fill="#0087fa"/>
<circle cx="366.2" cy="122.6" r="2.50" fill="#007ff7"/>
<circle cx="366.2" cy="125.8" r="2.50" fill="#0083f8"/>
<circle cx="366.2" cy="128.9" r="2.50" fill="#0085f9"/>
<circle cx="368.2" cy="119.6" r="2.50" fill="#0080f7"/>
<circle cx="368.2" cy="122.7" r="2.50" fill="#0084f9"/>
<circle cx="368.2" cy="125.7" r="2.50" fill="#0085f9"/>
<circle cx="368.2" cy="128.7" r="2.50" fill="#0083f8"/>
<circle cx="370.2" cy="120.3" r="2.50" fill="#0080f7"/>
<circle cx="370.2" cy="123.6" r="2.50" fill="#0084f9"/>
<circle cx="370.2" cy="126.9" r="2.50" fill="#0083f8"/>
<circle cx="372.2" cy="120.6" r="2.50" fill="#0084f9"/>
<circle cx="372.2" cy="123.8" r="2.50" fill="#0082f8"/>
<circle cx="372.2" cy="127.1" r="2.50" fill="#0082f8"/>
<circle cx="374.2" cy="122.4" r="2.50" fill="#0085f9"/>
<circle cx="374.2" cy="125.9" r="2.50" fill="#0082f8"/>
<circle cx="376.2" cy="121.6" r="2.50" fill="#0082f8"/>
<circle cx="376.2" cy="126.3" r="2.50" fill="#0080f7"/>
<circle cx="378.2" cy="126.1" r="2.50" fill="#0082f8"/>
<circle cx="380.4" cy="122.0" r="2.50" fill="#0084f9"/>
<circle cx="382.6" cy="125.5" r="2.50" fill="#0087fa"/>
<circle cx="471.2" cy="123.9" r="2.50" fill="#e40081"/>
<circle cx="474.6" cy="122.1" r="2.50" fill="#c70098"/>
<circle cx="476.8" cy="121.4" r="2.50" fill="#fc0060"/>
<circle cx="476.8" cy="124.1" r="2.50" fill="#ee0077"/>
<circle cx="476.8" cy="126.8" r="2.50" fill="#fb0064"/>
<circle cx="478.8" cy="120.1" r="2.50" fill="#f5006c"/>
<circle cx="478.8" cy="123.8" r="2.50" fill="#c4009a"/>
<circle cx="478.8" cy="127.5" r="2.50" fill="#f6006b"/>
<circle cx="480.8" cy="117.4" r="2.50" fill="#f7006a"/>
<circle cx="480.8" cy="120.7" r="2.50" fill="#f10072"/>
<circle cx="480.8" cy="124.0" r="2.50" fill="#d10092"/>
<circle cx="480.8" cy="127.3" r="2.50" fill="#f90067"/>
<circle cx="480.8" cy="130.6" r="2.50" fill="#ff005a"/>
<circle cx="482.8" cy="114.5" r="2.50" fill="#f4006e"/>
<circle cx="482.8" cy="117.7" r="2.50" fill="#f80069"/>
<circle cx="482.8" cy="120.9" r="2.50" fill="#bb00a0"/>
<circle cx="482.8" cy="124.1" r="2.50" fill="#f7006a"/>
<circle cx="482.8" cy="127.3" r="2.50" fill="#fa0065"/>
<circle cx="482.8" cy="130.5" r="2.50" fill="#e9007c"/>
<circle cx="482.8" cy="133.7" r="2.50" fill="#e6007f"/>
<circle cx="484.8" cy="114.6" r="2.50" fill="#f90067"/>
<circle cx="484.8" cy="117.8" r="2.50" fill="#f5006d"/>
<circle cx="484.8" cy="121.0" r="2.50" fill="#f3006f"/>
<circle cx="484.8" cy="124.2" r="2.50" fill="#f3006f"/>
<circle cx="484.8" cy="127.3" r="2.50" fill="#df0086"/>
<circle cx="484.8" cy="130.5" r="2.50" fill="#f90067"/>
<circle cx="484.8" cy="133.7" r="2.50" fill="#f00074"/>
<circle cx="486.8" cy="113.7" r="2.50" fill="#fc0062"/>
<circle cx="486.8" cy="117.1" r="2.50" fill="#f3006f"/>
<circle cx="486.8" cy="120.5" r="2.50" fill="#f90066"/>
<circle cx="486.8" cy="124.0" r="2.50" fill="#ee0076"/>
<circle cx="486.8" cy="127.4" r="2.50" fill="#f30070"/>
<circle cx="486.8" cy="130.8" r="2.50" fill="#f90067"/>
<circle cx="486.8" cy="134.3" r="2.50" fill="#f80069"/>
<circle cx="488.8" cy="117.9" r="2.50" fill="#f30070"/>
<circle cx="488.8" cy="121.2" r="2.50" fill="#f7006a"/>
<circle cx="488.8" cy="124.4" r="2.50" fill="#f5006c"/>
<circle cx="488.8" cy="127.7" r="2.50" fill="#f10073"/>
<circle cx="488.8" cy="131.0" r="2.50" fill="#e8007d"/>
<circle cx="490.8" cy="117.0" r="2.50" fill="#f70069"/>
<circle cx="490.8" cy="120.6" r="2.50" fill="#f4006f"/>
<circle cx="490.8" cy="124.2" r="2.50" fill="#f80068"/>
<circle cx="490.8" cy="127.8" r="2.50" fill="#f4006e"/>
<circle cx="490.8" cy="131.4" r="2.50" fill="#ff0058"/>
<circle cx="492.8" cy="116.6" r="2.50" fill="#f80068"/>
<circle cx="492.8" cy="120.3" r="2.50" fill="#f80068"/>
<circle cx="492.8" cy="124.1" r="2.50" fill="#f70069"/>
<circle cx="492.8" cy="127.8" r="2.50" fill="#f20071"/>
<circle cx="492.8" cy="131.5" r="2.50" fill="#b703a1"/>
<circle cx="494.8" cy="118.4" r="2.50" fill="#fc0061"/>
<circle cx="494.8" cy="121.9" r="2.50" fill="#e6007f"/>
<circle cx="494.8" cy="125.5" r="2.50" fill="#f6006c"/>
<circle cx="494.8" cy="129.1" r="2.50" fill="#be009e"/>
<circle cx="496.8" cy="119.1" r="2.50" fill="#e60080"/>
<circle cx="496.8" cy="122.2" r="2.50" fill="#eb007b"/>
<circle cx="496.8" cy="125.2" r="2.50" fill="#ee0076"/>
<circle cx="496.8" cy="128.2" r="2.50" fill="#b507a2"/>
<circle cx="498.8" cy="119.6" r="2.50" fill="#d8008c"/>
<circle cx="498.8" cy="123.4" r="2.50" fill="#e00085"/>
<circle cx="498.8" cy="127.1" r="2.50" fill="#d8008d"/>
<circle cx="500.8" cy="121.2" r="2.50" fill="#d00092"/>
<circle cx="500.8" cy="125.9" r="2.50" fill="#da008b"/>
<circle cx="502.8" cy="121.9" r="2.50" fill="#d8008d"/>
<circle cx="505.0" cy="125.4" r="2.50" fill="#cd0094"/>
<circle cx="507.2" cy="123.0" r="2.50" fill="#b010a5"/>
<circle cx="509.4" cy="124.7" r="2.50" fill="#962cb3"/>
<circle cx="511.5" cy="123.8" r="2.50" fill="#b10fa4"/>
<circle cx="515.4" cy="123.6" r="2.50" fill="#a71aa8"/>
<circle cx="518.7" cy="123.9" r="2.50" fill="#962db3"/>
<circle cx="522.2" cy="123.9" r="2.50" fill="#c1009c"/>
<circle cx="272.0" cy="123.9" r="2.50" fill="#bb00a0"/>
<circle cx="301.7" cy="123.9" r="2.50" fill="#8443c6"/>
<circle cx="312.0" cy="123.9" r="2.50" fill="#8443c6"/>
<circle cx="316.0" cy="123.9" r="2.50" fill="#9135ba"/>
<circle cx="320.0" cy="123.9" r="2.50" fill="#8443c6"/>
<circle cx="391.5" cy="123.9" r="2.50" fill="#8443c6"/>
<circle cx="442.0" cy="123.9" r="2.50" fill="#f20072"/>
<circle cx="449.0" cy="123.9" r="2.50" fill="#f20072"/>
<circle cx="461.7" cy="123.9" r="2.50" fill="#9135ba"/>
<circle cx="538.0" cy="123.9" r="2.50" fill="#9135ba"/>
<circle cx="359.2" cy="161.7" r="2.50" fill="#007ef6"/>
<circle cx="362.6" cy="158.7" r="2.50" fill="#0082f8"/>
<circle cx="362.6" cy="161.4" r="2.50" fill="#0086f9"/>
<circle cx="362.6" cy="164.2" r="2.50" fill="#0088fa"/>
<circle cx="364.6" cy="158.1" r="2.50" fill="#0089fa"/>
<circle cx="364.6" cy="161.3" r="2.50" fill="#0082f8"/>
<circle cx="364.6" cy="164.5" r="2.50" fill="#0085f9"/>
<circle cx="366.6" cy="157.7" r="2.50" fill="#007ff7"/>
<circle cx="366.6" cy="161.4" r="2.50" fill="#0085f9"/>
<circle cx="366.6" cy="165.1" r="2.50" fill="#0084f9"/>
<circle cx="368.6" cy="157.2" r="2.50" fill="#0082f8"/>
<circle cx="368.6" cy="161.3" r="2.50" fill="#0084f9"/>
<circle cx="368.6" cy="165.3" r="2.50" fill="#0082f8"/>
<circle cx="370.6" cy="157.8" r="2.50" fill="#0088fa"/>
<circle cx="370.6" cy="161.7" r="2.50" fill="#0084f9"/>
<circle cx="370.6" cy="165.5" r="2.50" fill="#0083f8"/>
<circle cx="372.6" cy="157.0" r="2.50" fill="#0085f9"/>
<circle cx="372.6" cy="159.9" r="2.50" fill="#0083f8"/>
<circle cx="372.6" cy="162.7" r="2.50" fill="#0084f9"/>
<circle cx="372.6" cy="165.6" r="2.50" fill="#008afb"/>
<circle cx="374.6" cy="157.7" r="2.50" fill="#0085f9"/>
<circle cx="374.6" cy="161.2" r="2.50" fill="#0089fa"/>
<circle cx="374.6" cy="164.8" r="2.50" fill="#0081f7"/>
<circle cx="376.6" cy="158.8" r="2.50" fill="#0073ef"/>
<circle cx="376.6" cy="163.8" r="2.50" fill="#0074f0"/>
<circle cx="378.6" cy="159.2" r="2.50" fill="#754fd1"/>
<circle cx="378.6" cy="163.6" r="2.50" fill="#6658d9"/>
<circle cx="380.6" cy="162.8" r="2.50" fill="#8046c9"/>
<circle cx="456.1" cy="161.4" r="2.50" fill="#a51ca9"/>
<circle cx="459.7" cy="161.5" r="2.50" fill="#a01fab"/>
<circle cx="463.2" cy="161.7" r="2.50" fill="#a51ca9"/>
<circle cx="467.0" cy="161.8" r="2.50" fill="#b408a3"/>
<circle cx="470.2" cy="161.5" r="2.50" fill="#bb009f"/>
<circle cx="474.1" cy="161.6" r="2.50" fill="#b604a2"/>
<circle cx="477.5" cy="161.5" r="2.50" fill="#c90097"/>
<circle cx="499.0" cy="149.4" r="2.50" fill="#ed0077"/>
<circle cx="499.0" cy="152.8" r="2.50" fill="#fb0064"/>
<circle cx="499.0" cy="156.3" r="2.50" fill="#b802a1"/>
<circle cx="499.0" cy="159.7" r="2.50" fill="#f4006e"/>
<circle cx="499.0" cy="163.1" r="2.50" fill="#be009e"/>
<circle cx="499.0" cy="166.6" r="2.50" fill="#f20071"/>
<circle cx="499.0" cy="170.0" r="2.50" fill="#ee0077"/>
<circle cx="499.0" cy="173.4" r="2.50" fill="#f4006f"/>
<circle cx="487.0" cy="162.9" r="2.50" fill="#dc0089"/>
<circle cx="489.2" cy="158.9" r="2.50" fill="#f5006e"/>
<circle cx="489.2" cy="163.9" r="2.50" fill="#ea007b"/>
<circle cx="491.2" cy="158.6" r="2.50" fill="#f5006d"/>
<circle cx="491.2" cy="161.4" r="2.50" fill="#e30082"/>
<circle cx="491.2" cy="164.2" r="2.50" fill="#ed0077"/>
<circle cx="493.2" cy="158.8" r="2.50" fill="#f10072"/>
<circle cx="493.2" cy="161.6" r="2.50" fill="#ed0078"/>
<circle cx="493.2" cy="164.4" r="2.50" fill="#f4006e"/>
<circle cx="495.2" cy="158.3" r="2.50" fill="#f30070"/>
<circle cx="495.2" cy="161.1" r="2.50" fill="#fa0065"/>
<circle cx="495.2" cy="163.9" r="2.50" fill="#f4006f"/>
<circle cx="497.2" cy="158.2" r="2.50" fill="#f5006d"/>
<circle cx="497.2" cy="161.4" r="2.50" fill="#ea007b"/>
<circle cx="497.2" cy="164.6" r="2.50" fill="#f80068"/>
<circle cx="499.2" cy="157.8" r="2.50" fill="#ce0094"/>
<circle cx="499.2" cy="161.4" r="2.50" fill="#f5006c"/>
<circle cx="499.2" cy="164.9" r="2.50" fill="#f10073"/>
<circle cx="501.2" cy="158.6" r="2.50" fill="#f20071"/>
<circle cx="501.2" cy="161.4" r="2.50" fill="#f00073"/>
<circle cx="501.2" cy="164.2" r="2.50" fill="#f6006b"/>
<circle cx="503.2" cy="159.0" r="2.50" fill="#ff0059"/>
<circle cx="503.2" cy="161.9" r="2.50" fill="#fc0061"/>
<circle cx="503.2" cy="164.7" r="2.50" fill="#ef0075"/>
<circle cx="505.2" cy="158.4" r="2.50" fill="#fd005e"/>
<circle cx="505.2" cy="161.4" r="2.50" fill="#ec0078"/>
<circle cx="505.2" cy="164.4" r="2.50" fill="#f20072"/>
<circle cx="507.2" cy="158.6" r="2.50" fill="#dc0089"/>
<circle cx="507.2" cy="161.4" r="2.50" fill="#f00074"/>
<circle cx="507.2" cy="164.2" r="2.50" fill="#df0086"/>
<circle cx="509.2" cy="158.8" r="2.50" fill="#df0086"/>
<circle cx="509.2" cy="161.4" r="2.50" fill="#e10084"/>
<circle cx="509.2" cy="164.1" r="2.50" fill="#df0086"/>
<circle cx="511.2" cy="159.0" r="2.50" fill="#cf0093"/>
<circle cx="511.2" cy="163.8" r="2.50" fill="#c4009a"/>
<circle cx="513.2" cy="159.5" r="2.50" fill="#b901a1"/>
<circle cx="515.4" cy="162.9" r="2.50" fill="#a31daa"/>
<circle cx="517.6" cy="160.1" r="2.50" fill="#ae12a5"/>
<circle cx="519.8" cy="162.5" r="2.50" fill="#952eb4"/>
<circle cx="522.0" cy="160.5" r="2.50" fill="#c60099"/>
<circle cx="524.2" cy="162.2" r="2.50" fill="#b00fa5"/>
<circle cx="526.5" cy="161.6" r="2.50" fill="#ae12a5"/>
<circle cx="529.9" cy="161.8" r="2.50" fill="#9233b9"/>
<circle cx="533.3" cy="161.5" r="2.50" fill="#b010a5"/>
<circle cx="334.4" cy="161.4" r="2.50" fill="#8443c6"/>
<circle cx="339.0" cy="161.4" r="2.50" fill="#8443c6"/>
<circle cx="346.8" cy="161.4" r="2.50" fill="#754fd1"/>
<circle cx="352.0" cy="161.4" r="2.50" fill="#6359da"/>
<circle cx="389.0" cy="161.4" r="2.50" fill="#754fd1"/>
<circle cx="395.0" cy="161.4" r="2.50" fill="#8443c6"/>
<circle cx="403.4" cy="161.4" r="2.50" fill="#8443c6"/>
<circle cx="407.6" cy="161.4" r="2.50" fill="#9135ba"/>
<circle cx="419.0" cy="161.4" r="2.50" fill="#f90067"/>
<circle cx="426.0" cy="161.4" r="2.50" fill="#9b23ad"/>
<circle cx="432.0" cy="161.4" r="2.50" fill="#f90067"/>
<circle cx="447.0" cy="161.4" r="2.50" fill="#f90067"/>
<circle cx="358.9" cy="198.9" r="2.50" fill="#8145c8"/>
<circle cx="362.8" cy="198.9" r="2.50" fill="#9332b7"/>
<circle cx="366.2" cy="198.9" r="2.50" fill="#8b3cc0"/>
<circle cx="369.7" cy="198.9" r="2.50" fill="#a818a8"/>
<circle cx="374.0" cy="199.8" r="2.50" fill="#565fdf"/>
<circle cx="376.2" cy="196.8" r="2.50" fill="#007af4"/>
<circle cx="378.4" cy="196.5" r="2.50" fill="#0087fa"/>
<circle cx="378.4" cy="201.3" r="2.50" fill="#0087fa"/>
<circle cx="380.4" cy="194.0" r="2.50" fill="#0083f8"/>
<circle cx="380.4" cy="197.1" r="2.50" fill="#0083f8"/>
<circle cx="380.4" cy="200.2" r="2.50" fill="#0086f9"/>
<circle cx="380.4" cy="203.3" r="2.50" fill="#0085f9"/>
<circle cx="382.4" cy="193.1" r="2.50" fill="#0083f8"/>
<circle cx="382.4" cy="197.0" r="2.50" fill="#0086f9"/>
<circle cx="382.4" cy="200.8" r="2.50" fill="#0084f9"/>
<circle cx="382.4" cy="204.7" r="2.50" fill="#0085f9"/>
<circle cx="384.4" cy="194.4" r="2.50" fill="#007ef6"/>
<circle cx="384.4" cy="197.3" r="2.50" fill="#0084f9"/>
<circle cx="384.4" cy="200.3" r="2.50" fill="#0081f7"/>
<circle cx="384.4" cy="203.2" r="2.50" fill="#0085f9"/>
<circle cx="386.4" cy="193.8" r="2.50" fill="#0085f9"/>
<circle cx="386.4" cy="197.1" r="2.50" fill="#0086f9"/>
<circle cx="386.4" cy="200.5" r="2.50" fill="#007ff7"/>
<circle cx="386.4" cy="203.9" r="2.50" fill="#0080f7"/>
<circle cx="388.4" cy="193.3" r="2.50" fill="#0083f8"/>
<circle cx="388.4" cy="196.8" r="2.50" fill="#007df6"/>
<circle cx="388.4" cy="200.4" r="2.50" fill="#0083f8"/>
<circle cx="388.4" cy="203.9" r="2.50" fill="#0080f7"/>
<circle cx="390.4" cy="194.8" r="2.50" fill="#007bf4"/>
<circle cx="390.4" cy="198.8" r="2.50" fill="#007ff7"/>
<circle cx="390.4" cy="202.9" r="2.50" fill="#007af4"/>
<circle cx="392.4" cy="196.9" r="2.50" fill="#007bf5"/>
<circle cx="392.4" cy="201.7" r="2.50" fill="#007ef6"/>
<circle cx="394.4" cy="196.6" r="2.50" fill="#007df5"/>
<circle cx="394.4" cy="201.1" r="2.50" fill="#007bf4"/>
<circle cx="396.4" cy="197.6" r="2.50" fill="#0081f7"/>
<circle cx="398.7" cy="199.0" r="2.50" fill="#007af4"/>
<circle cx="438.0" cy="199.9" r="2.50" fill="#f7006a"/>
<circle cx="440.2" cy="197.9" r="2.50" fill="#fa0065"/>
<circle cx="500.2" cy="186.6" r="2.50" fill="#f5006c"/>
<circle cx="500.2" cy="190.1" r="2.50" fill="#fa0064"/>
<circle cx="500.2" cy="193.6" r="2.50" fill="#f80068"/>
<circle cx="500.2" cy="197.1" r="2.50" fill="#fa0065"/>
<circle cx="500.2" cy="200.6" r="2.50" fill="#bc009f"/>
<circle cx="500.2" cy="204.2" r="2.50" fill="#ee0076"/>
<circle cx="500.2" cy="207.7" r="2.50" fill="#f3006f"/>
<circle cx="500.2" cy="211.2" r="2.50" fill="#f20072"/>
<circle cx="479.5" cy="200.5" r="2.50" fill="#ea007b"/>
<circle cx="481.7" cy="196.8" r="2.50" fill="#e9007d"/>
<circle cx="483.9" cy="196.4" r="2.50" fill="#f6006b"/>
<circle cx="483.9" cy="201.3" r="2.50" fill="#dd0088"/>
<circle cx="485.9" cy="196.4" r="2.50" fill="#f20071"/>
<circle cx="485.9" cy="201.4" r="2.50" fill="#f5006d"/>
<circle cx="487.9" cy="196.4" r="2.50" fill="#f6006b"/>
<circle cx="487.9" cy="201.4" r="2.50" fill="#ed0078"/>
<circle cx="489.9" cy="196.4" r="2.50" fill="#f80068"/>
<circle cx="489.9" cy="201.4" r="2.50" fill="#ea007b"/>
<circle cx="491.9" cy="196.3" r="2.50" fill="#f90067"/>
<circle cx="491.9" cy="198.9" r="2.50" fill="#ef0075"/>
<circle cx="491.9" cy="201.5" r="2.50" fill="#fd005f"/>
<circle cx="493.9" cy="196.1" r="2.50" fill="#eb007a"/>
<circle cx="493.9" cy="198.9" r="2.50" fill="#b703a1"/>
<circle cx="493.9" cy="201.7" r="2.50" fill="#e7007e"/>
<circle cx="495.9" cy="195.9" r="2.50" fill="#ed0078"/>
<circle cx="495.9" cy="198.9" r="2.50" fill="#cf0093"/>
<circle cx="495.9" cy="201.9" r="2.50" fill="#fa0064"/>
<circle cx="497.9" cy="195.9" r="2.50" fill="#ed0077"/>
<circle cx="497.9" cy="198.9" r="2.50" fill="#f30070"/>
<circle cx="497.9" cy="201.8" r="2.50" fill="#f70069"/>
<circle cx="499.9" cy="196.1" r="2.50" fill="#f6006b"/>
<circle cx="499.9" cy="199.2" r="2.50" fill="#fd005e"/>
<circle cx="499.9" cy="202.3" r="2.50" fill="#f7006a"/>
<circle cx="501.9" cy="195.5" r="2.50" fill="#fa0064"/>
<circle cx="501.9" cy="198.7" r="2.50" fill="#f6006b"/>
<circle cx="501.9" cy="201.9" r="2.50" fill="#f00074"/>
<circle cx="503.9" cy="196.4" r="2.50" fill="#fc0062"/>
<circle cx="503.9" cy="201.4" r="2.50" fill="#f00074"/>
<circle cx="505.9" cy="196.5" r="2.50" fill="#f00073"/>
<circle cx="505.9" cy="201.2" r="2.50" fill="#f30070"/>
<circle cx="507.9" cy="196.7" r="2.50" fill="#cf0093"/>
<circle cx="507.9" cy="201.1" r="2.50" fill="#e30083"/>
<circle cx="509.9" cy="196.8" r="2.50" fill="#bf009d"/>
<circle cx="512.1" cy="200.8" r="2.50" fill="#bd009e"/>
<circle cx="514.3" cy="197.1" r="2.50" fill="#c80098"/>
<circle cx="516.5" cy="200.6" r="2.50" fill="#c4009b"/>
<circle cx="518.7" cy="197.3" r="2.50" fill="#ab16a7"/>
<circle cx="520.9" cy="200.4" r="2.50" fill="#ad14a6"/>
<circle cx="523.1" cy="197.5" r="2.50" fill="#db008a"/>
<circle cx="525.3" cy="200.2" r="2.50" fill="#bc009f"/>
<circle cx="527.5" cy="197.7" r="2.50" fill="#a61aa9"/>
<circle cx="529.7" cy="199.9" r="2.50" fill="#ab15a7"/>
<circle cx="531.9" cy="198.0" r="2.50" fill="#c60099"/>
<circle cx="534.3" cy="199.5" r="2.50" fill="#a51ba9"/>
<circle cx="537.4" cy="198.7" r="2.50" fill="#b10fa4"/>
<circle cx="322.5" cy="198.9" r="2.50" fill="#8443c6"/>
<circle cx="344.9" cy="198.9" r="2.50" fill="#8443c6"/>
<circle cx="415.0" cy="198.9" r="2.50" fill="#0084f9"/>
<circle cx="418.0" cy="198.9" r="2.50" fill="#007cf5"/>
<circle cx="451.0" cy="198.9" r="2.50" fill="#bb00a0"/>
<circle cx="456.0" cy="198.9" r="2.50" fill="#ab15a7"/>
<circle cx="461.0" cy="198.9" r="2.50" fill="#bb00a0"/>
<circle cx="466.0" cy="198.9" r="2.50" fill="#ab15a7"/>
<circle cx="471.0" cy="198.9" r="2.50" fill="#9b23ad"/>
<circle cx="351.0" cy="233.7" r="2.50" fill="#0083f8"/>
<circle cx="351.0" cy="236.3" r="2.50" fill="#008afb"/>
<circle cx="351.0" cy="239.0" r="2.50" fill="#0082f8"/>
<circle cx="353.0" cy="232.5" r="2.50" fill="#0081f8"/>
<circle cx="353.0" cy="236.2" r="2.50" fill="#0084f9"/>
<circle cx="353.0" cy="240.0" r="2.50" fill="#007ff7"/>
<circle cx="355.0" cy="230.5" r="2.50" fill="#0085f9"/>
<circle cx="355.0" cy="234.3" r="2.50" fill="#0083f8"/>
<circle cx="355.0" cy="238.1" r="2.50" fill="#0083f8"/>
<circle cx="355.0" cy="241.9" r="2.50" fill="#007ef6"/>
<circle cx="357.0" cy="228.4" r="2.50" fill="#0087fa"/>
<circle cx="357.0" cy="231.7" r="2.50" fill="#0083f8"/>
<circle cx="357.0" cy="235.1" r="2.50" fill="#0084f9"/>
<circle cx="357.0" cy="238.5" r="2.50" fill="#0080f7"/>
<circle cx="357.0" cy="241.8" r="2.50" fill="#0085f9"/>
<circle cx="357.0" cy="245.2" r="2.50" fill="#0084f9"/>
<circle cx="359.0" cy="228.8" r="2.50" fill="#0085f9"/>
<circle cx="359.0" cy="232.5" r="2.50" fill="#0084f9"/>
<circle cx="359.0" cy="236.3" r="2.50" fill="#0082f8"/>
<circle cx="359.0" cy="240.0" r="2.50" fill="#0084f9"/>
<circle cx="359.0" cy="243.7" r="2.50" fill="#0085f9"/>
<circle cx="361.0" cy="227.7" r="2.50" fill="#0082f8"/>
<circle cx="361.0" cy="231.3" r="2.50" fill="#0085f9"/>
<circle cx="361.0" cy="235.0" r="2.50" fill="#007ff6"/>
<circle cx="361.0" cy="238.6" r="2.50" fill="#0086f9"/>
<circle cx="361.0" cy="242.2" r="2.50" fill="#0086fa"/>
<circle cx="361.0" cy="245.9" r="2.50" fill="#007ff7"/>
<circle cx="363.0" cy="229.4" r="2.50" fill="#0084f9"/>
<circle cx="363.0" cy="232.9" r="2.50" fill="#0087fa"/>
<circle cx="363.0" cy="236.4" r="2.50" fill="#0084f9"/>
<circle cx="363.0" cy="239.9" r="2.50" fill="#0081f7"/>
<circle cx="363.0" cy="243.4" r="2.50" fill="#0082f8"/>
<circle cx="365.0" cy="231.2" r="2.50" fill="#0086f9"/>
<circle cx="365.0" cy="234.6" r="2.50" fill="#0083f8"/>
<circle cx="365.0" cy="237.9" r="2.50" fill="#0084f9"/>
<circle cx="365.0" cy="241.2" r="2.50" fill="#0083f8"/>
<circle cx="367.0" cy="232.5" r="2.50" fill="#0080f7"/>
<circle cx="367.0" cy="236.3" r="2.50" fill="#007df5"/>
<circle cx="367.0" cy="240.1" r="2.50" fill="#0084f9"/>
<circle cx="369.0" cy="233.4" r="2.50" fill="#007ff6"/>
<circle cx="369.0" cy="238.3" r="2.50" fill="#0074f0"/>
<circle cx="371.0" cy="233.9" r="2.50" fill="#086fec"/>
<circle cx="371.0" cy="238.8" r="2.50" fill="#3968e7"/>
<circle cx="373.0" cy="233.2" r="2.50" fill="#5261e1"/>
<circle cx="373.0" cy="236.1" r="2.50" fill="#3369e8"/>
<circle cx="373.0" cy="239.1" r="2.50" fill="#555fe0"/>
<circle cx="375.0" cy="233.1" r="2.50" fill="#595ede"/>
<circle cx="375.0" cy="236.3" r="2.50" fill="#0073ef"/>
<circle cx="375.0" cy="239.4" r="2.50" fill="#256cea"/>
<circle cx="377.0" cy="232.3" r="2.50" fill="#007cf5"/>
<circle cx="377.0" cy="236.4" r="2.50" fill="#007bf4"/>
<circle cx="377.0" cy="240.5" r="2.50" fill="#007cf5"/>
<circle cx="379.0" cy="232.8" r="2.50" fill="#0084f9"/>
<circle cx="379.0" cy="236.7" r="2.50" fill="#007cf5"/>
<circle cx="379.0" cy="240.5" r="2.50" fill="#0082f8"/>
<circle cx="381.0" cy="233.6" r="2.50" fill="#0082f8"/>
<circle cx="381.0" cy="236.3" r="2.50" fill="#007ff7"/>
<circle cx="381.0" cy="239.1" r="2.50" fill="#007df5"/>
<circle cx="383.0" cy="237.8" r="2.50" fill="#007ef6"/>
<circle cx="385.2" cy="235.4" r="2.50" fill="#0079f3"/>
<circle cx="412.8" cy="236.3" r="2.50" fill="#9c22ac"/>
<circle cx="416.3" cy="236.3" r="2.50" fill="#b00fa5"/>
<circle cx="420.1" cy="236.3" r="2.50" fill="#a51ca9"/>
<circle cx="423.4" cy="236.4" r="2.50" fill="#aa16a7"/>
<circle cx="426.8" cy="236.0" r="2.50" fill="#a41daa"/>
<circle cx="430.8" cy="235.8" r="2.50" fill="#a819a8"/>
<circle cx="433.9" cy="236.5" r="2.50" fill="#9e21ac"/>
<circle cx="437.8" cy="235.6" r="2.50" fill="#a31daa"/>
<circle cx="440.0" cy="237.1" r="2.50" fill="#9c23ad"/>
<circle cx="442.2" cy="235.5" r="2.50" fill="#aa17a7"/>
<circle cx="444.4" cy="237.2" r="2.50" fill="#a21eaa"/>
<circle cx="446.6" cy="235.4" r="2.50" fill="#9c22ac"/>
<circle cx="448.8" cy="237.3" r="2.50" fill="#a41ca9"/>
<circle cx="451.0" cy="235.3" r="2.50" fill="#893ec1"/>
<circle cx="453.2" cy="237.3" r="2.50" fill="#9233b9"/>
<circle cx="455.4" cy="235.6" r="2.50" fill="#a020ab"/>
<circle cx="457.8" cy="236.9" r="2.50" fill="#9927af"/>
<circle cx="461.2" cy="236.6" r="2.50" fill="#8d39bd"/>
<circle cx="465.0" cy="236.3" r="2.50" fill="#be009d"/>
<circle cx="469.6" cy="238.3" r="2.50" fill="#cd0094"/>
<circle cx="471.8" cy="232.4" r="2.50" fill="#f6006c"/>
<circle cx="471.8" cy="236.3" r="2.50" fill="#c2009b"/>
<circle cx="471.8" cy="240.2" r="2.50" fill="#f20070"/>
<circle cx="473.8" cy="232.3" r="2.50" fill="#ee0077"/>
<circle cx="473.8" cy="236.2" r="2.50" fill="#e7007f"/>
<circle cx="473.8" cy="240.1" r="2.50" fill="#b20ca4"/>
<circle cx="475.8" cy="230.7" r="2.50" fill="#f6006b"/>
<circle cx="475.8" cy="234.5" r="2.50" fill="#fd005f"/>
<circle cx="475.8" cy="238.4" r="2.50" fill="#c70098"/>
<circle cx="475.8" cy="242.2" r="2.50" fill="#e8007e"/>
<circle cx="477.8" cy="231.5" r="2.50" fill="#f20071"/>
<circle cx="477.8" cy="234.8" r="2.50" fill="#f20071"/>
<circle cx="477.8" cy="238.2" r="2.50" fill="#fb0063"/>
<circle cx="477.8" cy="241.5" r="2.50" fill="#f4006e"/>
<circle cx="479.8" cy="231.5" r="2.50" fill="#f30070"/>
<circle cx="479.8" cy="234.9" r="2.50" fill="#f80068"/>
<circle cx="479.8" cy="238.3" r="2.50" fill="#fa0064"/>
<circle cx="479.8" cy="241.8" r="2.50" fill="#fb0063"/>
<circle cx="481.8" cy="231.5" r="2.50" fill="#fd005e"/>
<circle cx="481.8" cy="234.7" r="2.50" fill="#fb0063"/>
<circle cx="481.8" cy="237.9" r="2.50" fill="#ed0077"/>
<circle cx="481.8" cy="241.1" r="2.50" fill="#f30070"/>
<circle cx="483.8" cy="227.7" r="2.50" fill="#ef0075"/>
<circle cx="483.8" cy="231.2" r="2.50" fill="#f6006b"/>
<circle cx="483.8" cy="234.7" r="2.50" fill="#ee0077"/>
<circle cx="483.8" cy="238.1" r="2.50" fill="#f5006d"/>
<circle cx="483.8" cy="241.6" r="2.50" fill="#bb009f"/>
<circle cx="483.8" cy="245.1" r="2.50" fill="#f6006c"/>
<circle cx="485.8" cy="227.5" r="2.50" fill="#fc0062"/>
<circle cx="485.8" cy="231.2" r="2.50" fill="#f5006d"/>
<circle cx="485.8" cy="234.9" r="2.50" fill="#f6006c"/>
<circle cx="485.8" cy="238.6" r="2.50" fill="#f90066"/>
<circle cx="485.8" cy="242.3" r="2.50" fill="#f6006b"/>
<circle cx="485.8" cy="246.0" r="2.50" fill="#f70069"/>
<circle cx="487.8" cy="226.1" r="2.50" fill="#f5006d"/>
<circle cx="487.8" cy="229.4" r="2.50" fill="#ec0079"/>
<circle cx="487.8" cy="232.7" r="2.50" fill="#e7007f"/>
<circle cx="487.8" cy="236.0" r="2.50" fill="#e30083"/>
<circle cx="487.8" cy="239.3" r="2.50" fill="#f00074"/>
<circle cx="487.8" cy="242.6" r="2.50" fill="#e20084"/>
<circle cx="487.8" cy="245.9" r="2.50" fill="#f3006f"/>
<circle cx="489.8" cy="229.0" r="2.50" fill="#cc0095"/>
<circle cx="489.8" cy="232.1" r="2.50" fill="#d6008e"/>
<circle cx="489.8" cy="235.2" r="2.50" fill="#ef0075"/>
<circle cx="489.8" cy="238.3" r="2.50" fill="#f30070"/>
<circle cx="489.8" cy="241.4" r="2.50" fill="#dd0088"/>
<circle cx="489.8" cy="244.6" r="2.50" fill="#e60080"/>
<circle cx="491.8" cy="231.1" r="2.50" fill="#f00074"/>
<circle cx="491.8" cy="234.6" r="2.50" fill="#e6007f"/>
<circle cx="491.8" cy="238.2" r="2.50" fill="#f90067"/>
<circle cx="491.8" cy="241.7" r="2.50" fill="#e8007e"/>
<circle cx="493.8" cy="232.5" r="2.50" fill="#ed0078"/>
<circle cx="493.8" cy="236.6" r="2.50" fill="#f10072"/>
<circle cx="493.8" cy="240.7" r="2.50" fill="#e7007f"/>
<circle cx="495.8" cy="232.6" r="2.50" fill="#e6007f"/>
<circle cx="495.8" cy="235.9" r="2.50" fill="#c4009a"/>
<circle cx="495.8" cy="239.2" r="2.50" fill="#e40081"/>
<circle cx="497.8" cy="234.1" r="2.50" fill="#dc0089"/>
<circle cx="497.8" cy="238.6" r="2.50" fill="#cb0096"/>
<circle cx="499.8" cy="234.6" r="2.50" fill="#b802a1"/>
<circle cx="502.0" cy="237.7" r="2.50" fill="#ba00a0"/>
<circle cx="337.0" cy="236.3" r="2.50" fill="#8443c6"/>
<circle cx="339.5" cy="236.3" r="2.50" fill="#8443c6"/>
<circle cx="396.0" cy="236.3" r="2.50" fill="#9135ba"/>
<circle cx="401.4" cy="236.3" r="2.50" fill="#9135ba"/>
<circle cx="513.0" cy="236.3" r="2.50" fill="#9135ba"/>
<circle cx="332.0" cy="275.3" r="2.50" fill="#0086f9"/>
<circle cx="334.2" cy="271.3" r="2.50" fill="#0085f9"/>
<circle cx="334.2" cy="276.3" r="2.50" fill="#0085f9"/>
<circle cx="336.2" cy="271.1" r="2.50" fill="#0084f9"/>
<circle cx="336.2" cy="273.8" r="2.50" fill="#0087fa"/>
<circle cx="336.2" cy="276.5" r="2.50" fill="#0085f9"/>
<circle cx="338.2" cy="270.9" r="2.50" fill="#0087fa"/>
<circle cx="338.2" cy="273.8" r="2.50" fill="#0083f8"/>
<circle cx="338.2" cy="276.7" r="2.50" fill="#0086f9"/>
<circle cx="340.2" cy="271.3" r="2.50" fill="#0081f7"/>
<circle cx="340.2" cy="273.9" r="2.50" fill="#0085f9"/>
<circle cx="340.2" cy="276.5" r="2.50" fill="#0084f9"/>
<circle cx="342.2" cy="270.2" r="2.50" fill="#0085f9"/>
<circle cx="342.2" cy="273.9" r="2.50" fill="#0083f8"/>
<circle cx="342.2" cy="277.7" r="2.50" fill="#0085f9"/>
<circle cx="344.2" cy="270.4" r="2.50" fill="#0084f9"/>
<circle cx="344.2" cy="273.8" r="2.50" fill="#0084f9"/>
<circle cx="344.2" cy="277.3" r="2.50" fill="#0084f9"/>
<circle cx="346.2" cy="269.0" r="2.50" fill="#0085f9"/>
<circle cx="346.2" cy="272.4" r="2.50" fill="#007ef6"/>
<circle cx="346.2" cy="275.7" r="2.50" fill="#0083f8"/>
<circle cx="346.2" cy="279.1" r="2.50" fill="#0080f7"/>
<circle cx="348.2" cy="268.4" r="2.50" fill="#0086fa"/>
<circle cx="348.2" cy="272.0" r="2.50" fill="#0085f9"/>
<circle cx="348.2" cy="275.5" r="2.50" fill="#0084f9"/>
<circle cx="348.2" cy="279.1" r="2.50" fill="#0085f9"/>
<circle cx="350.2" cy="268.8" r="2.50" fill="#0083f8"/>
<circle cx="350.2" cy="272.3" r="2.50" fill="#0085f9"/>
<circle cx="350.2" cy="275.7" r="2.50" fill="#0086f9"/>
<circle cx="350.2" cy="279.2" r="2.50" fill="#007ff7"/>
<circle cx="352.2" cy="269.3" r="2.50" fill="#0086f9"/>
<circle cx="352.2" cy="272.2" r="2.50" fill="#0085f9"/>
<circle cx="352.2" cy="275.2" r="2.50" fill="#007ef6"/>
<circle cx="352.2" cy="278.2" r="2.50" fill="#0082f8"/>
<circle cx="354.2" cy="269.0" r="2.50" fill="#007df6"/>
<circle cx="354.2" cy="272.3" r="2.50" fill="#0082f8"/>
<circle cx="354.2" cy="275.6" r="2.50" fill="#007ff7"/>
<circle cx="354.2" cy="278.9" r="2.50" fill="#0087fa"/>
<circle cx="356.2" cy="270.0" r="2.50" fill="#0084f8"/>
<circle cx="356.2" cy="273.5" r="2.50" fill="#0081f7"/>
<circle cx="356.2" cy="277.0" r="2.50" fill="#0086f9"/>
<circle cx="358.2" cy="270.9" r="2.50" fill="#007ef6"/>
<circle cx="358.2" cy="273.8" r="2.50" fill="#0084f9"/>
<circle cx="358.2" cy="276.7" r="2.50" fill="#0082f8"/>
<circle cx="360.2" cy="271.4" r="2.50" fill="#0081f8"/>
<circle cx="360.2" cy="276.2" r="2.50" fill="#0084f9"/>
<circle cx="362.2" cy="271.9" r="2.50" fill="#0086fa"/>
<circle cx="364.4" cy="275.4" r="2.50" fill="#0084f9"/>
<circle cx="413.7" cy="273.4" r="2.50" fill="#db008a"/>
<circle cx="417.6" cy="272.9" r="2.50" fill="#e30082"/>
<circle cx="419.8" cy="274.9" r="2.50" fill="#dc0089"/>
<circle cx="422.0" cy="272.5" r="2.50" fill="#dd0088"/>
<circle cx="424.2" cy="275.3" r="2.50" fill="#e20083"/>
<circle cx="426.4" cy="272.1" r="2.50" fill="#e50081"/>
<circle cx="428.6" cy="275.8" r="2.50" fill="#d9008c"/>
<circle cx="430.8" cy="271.8" r="2.50" fill="#ce0094"/>
<circle cx="433.0" cy="275.8" r="2.50" fill="#d30090"/>
<circle cx="435.2" cy="271.8" r="2.50" fill="#c60099"/>
<circle cx="437.4" cy="275.8" r="2.50" fill="#b00fa5"/>
<circle cx="439.6" cy="271.8" r="2.50" fill="#db0089"/>
<circle cx="441.8" cy="275.8" r="2.50" fill="#b901a1"/>
<circle cx="444.0" cy="271.8" r="2.50" fill="#bf009d"/>
<circle cx="446.2" cy="275.8" r="2.50" fill="#b802a1"/>
<circle cx="448.4" cy="272.1" r="2.50" fill="#ac14a6"/>
<circle cx="450.6" cy="275.4" r="2.50" fill="#ac15a7"/>
<circle cx="452.8" cy="272.5" r="2.50" fill="#b802a1"/>
<circle cx="455.0" cy="274.9" r="2.50" fill="#b10ea4"/>
<circle cx="474.8" cy="261.8" r="2.50" fill="#f6006b"/>
<circle cx="474.8" cy="265.2" r="2.50" fill="#f70069"/>
<circle cx="474.8" cy="268.7" r="2.50" fill="#ff0054"/>
<circle cx="474.8" cy="272.1" r="2.50" fill="#f3006f"/>
<circle cx="474.8" cy="275.5" r="2.50" fill="#f6006b"/>
<circle cx="474.8" cy="279.0" r="2.50" fill="#fe005e"/>
<circle cx="474.8" cy="282.4" r="2.50" fill="#ff0054"/>
<circle cx="474.8" cy="285.8" r="2.50" fill="#fe005c"/>
<circle cx="457.0" cy="275.8" r="2.50" fill="#fd005e"/>
<circle cx="459.2" cy="271.7" r="2.50" fill="#f90066"/>
<circle cx="459.2" cy="275.7" r="2.50" fill="#fc0062"/>
<circle cx="461.2" cy="271.6" r="2.50" fill="#ff0057"/>
<circle cx="461.2" cy="276.6" r="2.50" fill="#ef0075"/>
<circle cx="463.2" cy="271.9" r="2.50" fill="#f4006e"/>
<circle cx="463.2" cy="276.5" r="2.50" fill="#fd005e"/>
<circle cx="465.2" cy="271.1" r="2.50" fill="#f6006c"/>
<circle cx="465.2" cy="274.2" r="2.50" fill="#f6006c"/>
<circle cx="465.2" cy="277.3" r="2.50" fill="#f80069"/>
<circle cx="467.2" cy="271.8" r="2.50" fill="#ed0078"/>
<circle cx="467.2" cy="276.0" r="2.50" fill="#f70069"/>
<circle cx="469.2" cy="270.6" r="2.50" fill="#fa0065"/>
<circle cx="469.2" cy="273.5" r="2.50" fill="#f80069"/>
<circle cx="469.2" cy="276.5" r="2.50" fill="#f3006f"/>
<circle cx="471.2" cy="270.2" r="2.50" fill="#f90066"/>
<circle cx="471.2" cy="273.6" r="2.50" fill="#cf0093"/>
<circle cx="471.2" cy="277.1" r="2.50" fill="#f30070"/>
<circle cx="473.2" cy="271.0" r="2.50" fill="#fc0061"/>
<circle cx="473.2" cy="273.7" r="2.50" fill="#ff0051"/>
<circle cx="473.2" cy="276.5" r="2.50" fill="#f6006b"/>
<circle cx="475.2" cy="269.4" r="2.50" fill="#f20071"/>
<circle cx="475.2" cy="273.5" r="2.50" fill="#e9007c"/>
<circle cx="475.2" cy="277.5" r="2.50" fill="#fe005c"/>
<circle cx="477.2" cy="269.5" r="2.50" fill="#ff0057"/>
<circle cx="477.2" cy="273.7" r="2.50" fill="#fc0062"/>
<circle cx="477.2" cy="277.9" r="2.50" fill="#fb0062"/>
<circle cx="479.2" cy="270.6" r="2.50" fill="#f7006a"/>
<circle cx="479.2" cy="274.2" r="2.50" fill="#e40081"/>
<circle cx="479.2" cy="277.9" r="2.50" fill="#f3006f"/>
<circle cx="481.2" cy="271.0" r="2.50" fill="#f5006d"/>
<circle cx="481.2" cy="273.7" r="2.50" fill="#fb0063"/>
<circle cx="481.2" cy="276.4" r="2.50" fill="#f6006b"/>
<circle cx="483.2" cy="271.6" r="2.50" fill="#ee0076"/>
<circle cx="373.5" cy="275.3" r="2.50" fill="#6359da"/>
<circle cx="376.5" cy="272.8" r="2.50" fill="#6359da"/>
<circle cx="406.0" cy="273.8" r="2.50" fill="#e00086"/>
<circle cx="357.8" cy="311.3" r="2.50" fill="#7350d2"/>
<circle cx="361.5" cy="311.3" r="2.50" fill="#5b5dde"/>
<circle cx="365.2" cy="311.3" r="2.50" fill="#3669e8"/>
<circle cx="368.6" cy="311.3" r="2.50" fill="#585edf"/>
<circle cx="380.5" cy="299.3" r="2.50" fill="#0082f8"/>
<circle cx="380.5" cy="302.7" r="2.50" fill="#0088fa"/>
<circle cx="380.5" cy="306.1" r="2.50" fill="#0084f9"/>
<circle cx="380.5" cy="309.6" r="2.50" fill="#0081f7"/>
<circle cx="380.5" cy="313.0" r="2.50" fill="#0081f7"/>
<circle cx="380.5" cy="316.4" r="2.50" fill="#007ef6"/>
<circle cx="380.5" cy="319.9" r="2.50" fill="#0084f9"/>
<circle cx="380.5" cy="323.3" r="2.50" fill="#0080f7"/>
<circle cx="369.0" cy="312.2" r="2.50" fill="#007cf5"/>
<circle cx="371.2" cy="309.2" r="2.50" fill="#007ef6"/>
<circle cx="373.4" cy="308.5" r="2.50" fill="#007bf4"/>
<circle cx="373.4" cy="311.3" r="2.50" fill="#007df5"/>
<circle cx="373.4" cy="314.1" r="2.50" fill="#007df5"/>
<circle cx="375.4" cy="309.1" r="2.50" fill="#007ef6"/>
<circle cx="375.4" cy="313.9" r="2.50" fill="#0083f8"/>
<circle cx="377.4" cy="307.4" r="2.50" fill="#0085f9"/>
<circle cx="377.4" cy="311.0" r="2.50" fill="#007df5"/>
<circle cx="377.4" cy="314.7" r="2.50" fill="#0081f7"/>
<circle cx="379.4" cy="308.7" r="2.50" fill="#0082f8"/>
<circle cx="379.4" cy="311.6" r="2.50" fill="#0084f9"/>
<circle cx="379.4" cy="314.5" r="2.50" fill="#0083f8"/>
<circle cx="381.4" cy="308.0" r="2.50" fill="#0083f8"/>
<circle cx="381.4" cy="311.0" r="2.50" fill="#0084f9"/>
<circle cx="381.4" cy="314.0" r="2.50" fill="#007cf5"/>
<circle cx="383.4" cy="308.5" r="2.50" fill="#007df6"/>
<circle cx="383.4" cy="311.3" r="2.50" fill="#0081f8"/>
<circle cx="383.4" cy="314.2" r="2.50" fill="#007df5"/>
<circle cx="385.4" cy="308.6" r="2.50" fill="#0076f1"/>
<circle cx="385.4" cy="313.3" r="2.50" fill="#007ef6"/>
<circle cx="387.4" cy="309.7" r="2.50" fill="#186deb"/>
<circle cx="387.4" cy="313.3" r="2.50" fill="#306ae9"/>
<circle cx="389.4" cy="308.5" r="2.50" fill="#2d6be9"/>
<circle cx="389.4" cy="311.3" r="2.50" fill="#0071ee"/>
<circle cx="389.4" cy="314.0" r="2.50" fill="#3b68e7"/>
<circle cx="391.4" cy="308.9" r="2.50" fill="#236cea"/>
<circle cx="391.4" cy="313.7" r="2.50" fill="#5161e1"/>
<circle cx="393.4" cy="313.3" r="2.50" fill="#6c55d6"/>
<circle cx="395.6" cy="309.7" r="2.50" fill="#286bea"/>
<circle cx="397.8" cy="312.3" r="2.50" fill="#4565e5"/>
<circle cx="399.9" cy="311.0" r="2.50" fill="#6b55d6"/>
<circle cx="427.9" cy="311.3" r="2.50" fill="#c4009a"/>
<circle cx="431.9" cy="311.5" r="2.50" fill="#9d21ac"/>
<circle cx="435.4" cy="310.9" r="2.50" fill="#a819a8"/>
<circle cx="438.8" cy="311.9" r="2.50" fill="#ad13a6"/>
<circle cx="442.4" cy="312.2" r="2.50" fill="#b508a3"/>
<circle cx="444.6" cy="310.3" r="2.50" fill="#c70099"/>
<circle cx="446.8" cy="312.2" r="2.50" fill="#c4009a"/>
<circle cx="449.0" cy="310.5" r="2.50" fill="#d10092"/>
<circle cx="451.0" cy="311.5" r="2.50" fill="#b30aa3"/>
<circle cx="454.8" cy="311.3" r="2.50" fill="#bc009f"/>
<circle cx="458.2" cy="311.2" r="2.50" fill="#c0009d"/>
<circle cx="487.0" cy="301.1" r="2.50" fill="#f70069"/>
<circle cx="487.0" cy="304.5" r="2.50" fill="#fe005d"/>
<circle cx="487.0" cy="307.9" r="2.50" fill="#fc0060"/>
<circle cx="487.0" cy="311.3" r="2.50" fill="#f4006f"/>
<circle cx="487.0" cy="314.7" r="2.50" fill="#f7006a"/>
<circle cx="487.0" cy="318.1" r="2.50" fill="#ef0076"/>
<circle cx="487.0" cy="321.5" r="2.50" fill="#f80069"/>
<circle cx="473.0" cy="312.7" r="2.50" fill="#fc0061"/>
<circle cx="475.2" cy="308.7" r="2.50" fill="#f90066"/>
<circle cx="475.2" cy="311.3" r="2.50" fill="#f4006f"/>
<circle cx="475.2" cy="313.9" r="2.50" fill="#e9007c"/>
<circle cx="477.2" cy="307.4" r="2.50" fill="#f3006f"/>
<circle cx="477.2" cy="310.9" r="2.50" fill="#f90066"/>
<circle cx="477.2" cy="314.4" r="2.50" fill="#f70069"/>
<circle cx="479.2" cy="307.3" r="2.50" fill="#f3006f"/>
<circle cx="479.2" cy="311.4" r="2.50" fill="#c50099"/>
<circle cx="479.2" cy="315.5" r="2.50" fill="#f4006f"/>
<circle cx="481.2" cy="305.4" r="2.50" fill="#ff0059"/>
<circle cx="481.2" cy="309.2" r="2.50" fill="#ff0056"/>
<circle cx="481.2" cy="313.1" r="2.50" fill="#f00074"/>
<circle cx="481.2" cy="316.9" r="2.50" fill="#f10073"/>
<circle cx="483.2" cy="304.3" r="2.50" fill="#ff0059"/>
<circle cx="483.2" cy="307.6" r="2.50" fill="#ff0058"/>
<circle cx="483.2" cy="310.9" r="2.50" fill="#c60099"/>
<circle cx="483.2" cy="314.2" r="2.50" fill="#f4006e"/>
<circle cx="483.2" cy="317.5" r="2.50" fill="#f90067"/>
<circle cx="485.2" cy="303.9" r="2.50" fill="#f5006d"/>
<circle cx="485.2" cy="307.5" r="2.50" fill="#fc0061"/>
<circle cx="485.2" cy="311.0" r="2.50" fill="#f00074"/>
<circle cx="485.2" cy="314.6" r="2.50" fill="#b10fa4"/>
<circle cx="485.2" cy="318.1" r="2.50" fill="#fb0063"/>
<circle cx="487.2" cy="306.3" r="2.50" fill="#ff005b"/>
<circle cx="487.2" cy="309.5" r="2.50" fill="#ed0077"/>
<circle cx="487.2" cy="312.7" r="2.50" fill="#f6006c"/>
<circle cx="487.2" cy="315.9" r="2.50" fill="#fe005e"/>
<circle cx="489.2" cy="308.5" r="2.50" fill="#f4006e"/>
<circle cx="489.2" cy="311.3" r="2.50" fill="#fc0061"/>
<circle cx="489.2" cy="314.1" r="2.50" fill="#b409a3"/>
<circle cx="491.2" cy="309.0" r="2.50" fill="#9829b1"/>
<circle cx="491.2" cy="313.6" r="2.50" fill="#9d22ac"/>
<circle cx="493.2" cy="312.8" r="2.50" fill="#b408a3"/>
<circle cx="495.4" cy="309.9" r="2.50" fill="#9232b8"/>
<circle cx="497.6" cy="312.5" r="2.50" fill="#b901a0"/>
<circle cx="499.8" cy="310.2" r="2.50" fill="#9e21ac"/>
<circle cx="502.0" cy="312.2" r="2.50" fill="#ab15a7"/>
<circle cx="504.2" cy="310.5" r="2.50" fill="#a918a8"/>
<circle cx="506.3" cy="311.2" r="2.50" fill="#a01fab"/>
<circle cx="318.3" cy="311.3" r="2.50" fill="#8443c6"/>
<circle cx="329.5" cy="311.3" r="2.50" fill="#8443c6"/>
<circle cx="333.0" cy="311.3" r="2.50" fill="#8443c6"/>
<circle cx="337.0" cy="311.3" r="2.50" fill="#8443c6"/>
<circle cx="345.6" cy="311.3" r="2.50" fill="#8443c6"/>
<circle cx="409.0" cy="311.3" r="2.50" fill="#bb00a0"/>
<circle cx="414.0" cy="311.3" r="2.50" fill="#bb00a0"/>
<circle cx="425.8" cy="311.3" r="2.50" fill="#c80098"/>
<circle cx="513.5" cy="311.3" r="2.50" fill="#9b23ad"/>
<circle cx="346.9" cy="348.8" r="2.50" fill="#6757d8"/>
<circle cx="350.3" cy="348.7" r="2.50" fill="#6956d7"/>
<circle cx="353.9" cy="348.3" r="2.50" fill="#6b55d6"/>
<circle cx="357.8" cy="347.9" r="2.50" fill="#774ed0"/>
<circle cx="360.0" cy="349.8" r="2.50" fill="#4c63e3"/>
<circle cx="362.2" cy="347.8" r="2.50" fill="#585edf"/>
<circle cx="364.4" cy="349.8" r="2.50" fill="#774dcf"/>
<circle cx="366.6" cy="347.8" r="2.50" fill="#6359da"/>
<circle cx="368.8" cy="349.8" r="2.50" fill="#5f5bdc"/>
<circle cx="371.0" cy="347.8" r="2.50" fill="#276cea"/>
<circle cx="373.2" cy="349.8" r="2.50" fill="#4a63e3"/>
<circle cx="375.4" cy="347.8" r="2.50" fill="#7450d2"/>
<circle cx="377.6" cy="349.8" r="2.50" fill="#4166e6"/>
<circle cx="386.8" cy="337.3" r="2.50" fill="#0086f9"/>
<circle cx="386.8" cy="340.5" r="2.50" fill="#0088fa"/>
<circle cx="386.8" cy="343.8" r="2.50" fill="#0084f9"/>
<circle cx="386.8" cy="347.1" r="2.50" fill="#0084f9"/>
<circle cx="386.8" cy="350.4" r="2.50" fill="#0083f8"/>
<circle cx="386.8" cy="353.7" r="2.50" fill="#0080f7"/>
<circle cx="386.8" cy="357.0" r="2.50" fill="#0084f9"/>
<circle cx="386.8" cy="360.3" r="2.50" fill="#0083f8"/>
<circle cx="379.0" cy="350.9" r="2.50" fill="#0081f7"/>
<circle cx="381.2" cy="345.9" r="2.50" fill="#0086f9"/>
<circle cx="381.2" cy="348.5" r="2.50" fill="#0085f9"/>
<circle cx="381.2" cy="351.1" r="2.50" fill="#0084f9"/>
<circle cx="383.2" cy="342.9" r="2.50" fill="#0081f8"/>
<circle cx="383.2" cy="345.9" r="2.50" fill="#0085f9"/>
<circle cx="383.2" cy="349.0" r="2.50" fill="#0084f9"/>
<circle cx="383.2" cy="352.0" r="2.50" fill="#0081f7"/>
<circle cx="383.2" cy="355.1" r="2.50" fill="#0084f9"/>
<circle cx="385.2" cy="343.1" r="2.50" fill="#0082f8"/>
<circle cx="385.2" cy="346.5" r="2.50" fill="#0085f9"/>
<circle cx="385.2" cy="350.0" r="2.50" fill="#0082f8"/>
<circle cx="385.2" cy="353.5" r="2.50" fill="#0082f8"/>
<circle cx="387.2" cy="344.0" r="2.50" fill="#0081f7"/>
<circle cx="387.2" cy="347.1" r="2.50" fill="#0087fa"/>
<circle cx="387.2" cy="350.2" r="2.50" fill="#0080f7"/>
<circle cx="387.2" cy="353.3" r="2.50" fill="#0085f9"/>
<circle cx="389.2" cy="342.4" r="2.50" fill="#0082f8"/>
<circle cx="389.2" cy="345.4" r="2.50" fill="#0080f7"/>
<circle cx="389.2" cy="348.4" r="2.50" fill="#0082f8"/>
<circle cx="389.2" cy="351.5" r="2.50" fill="#0085f9"/>
<circle cx="389.2" cy="354.5" r="2.50" fill="#0085f9"/>
<circle cx="391.2" cy="344.1" r="2.50" fill="#0086f9"/>
<circle cx="391.2" cy="347.1" r="2.50" fill="#0085f9"/>
<circle cx="391.2" cy="350.1" r="2.50" fill="#0085f9"/>
<circle cx="391.2" cy="353.1" r="2.50" fill="#0084f9"/>
<circle cx="393.2" cy="346.0" r="2.50" fill="#0080f7"/>
<circle cx="393.2" cy="351.0" r="2.50" fill="#0087fa"/>
<circle cx="395.2" cy="346.5" r="2.50" fill="#0087fa"/>
<circle cx="395.2" cy="351.0" r="2.50" fill="#0083f8"/>
<circle cx="396.2" cy="348.8" r="2.50" fill="#8a3dc0"/>
<circle cx="399.6" cy="348.8" r="2.50" fill="#744fd1"/>
<circle cx="403.3" cy="348.7" r="2.50" fill="#8541c5"/>
<circle cx="406.7" cy="348.9" r="2.50" fill="#9134b9"/>
<circle cx="410.6" cy="349.3" r="2.50" fill="#893ec2"/>
<circle cx="414.0" cy="348.0" r="2.50" fill="#774dcf"/>
<circle cx="416.2" cy="349.6" r="2.50" fill="#942fb5"/>
<circle cx="418.4" cy="347.8" r="2.50" fill="#8a3dc1"/>
<circle cx="420.6" cy="349.8" r="2.50" fill="#9f20ab"/>
<circle cx="422.8" cy="347.8" r="2.50" fill="#a918a8"/>
<circle cx="425.0" cy="349.7" r="2.50" fill="#9d21ac"/>
<circle cx="427.2" cy="347.9" r="2.50" fill="#a918a8"/>
<circle cx="429.4" cy="349.6" r="2.50" fill="#a31daa"/>
<circle cx="431.6" cy="348.0" r="2.50" fill="#9a26af"/>
<circle cx="433.8" cy="349.5" r="2.50" fill="#a11fab"/>
<circle cx="435.9" cy="348.3" r="2.50" fill="#a31daa"/>
<circle cx="439.4" cy="348.2" r="2.50" fill="#8b3cbf"/>
<circle cx="443.0" cy="349.3" r="2.50" fill="#a01fab"/>
<circle cx="472.0" cy="348.7" r="2.50" fill="#e30083"/>
<circle cx="475.6" cy="348.3" r="2.50" fill="#f4006e"/>
<circle cx="478.9" cy="349.2" r="2.50" fill="#c4009a"/>
<circle cx="482.6" cy="346.1" r="2.50" fill="#ee0076"/>
<circle cx="482.6" cy="348.8" r="2.50" fill="#f4006e"/>
<circle cx="482.6" cy="351.4" r="2.50" fill="#e50081"/>
<circle cx="484.6" cy="343.3" r="2.50" fill="#e9007c"/>
<circle cx="484.6" cy="347.0" r="2.50" fill="#f20071"/>
<circle cx="484.6" cy="350.7" r="2.50" fill="#eb007a"/>
<circle cx="484.6" cy="354.4" r="2.50" fill="#e40081"/>
<circle cx="486.6" cy="342.4" r="2.50" fill="#df0086"/>
<circle cx="486.6" cy="345.6" r="2.50" fill="#c90097"/>
<circle cx="486.6" cy="348.8" r="2.50" fill="#c60099"/>
<circle cx="486.6" cy="351.9" r="2.50" fill="#e10084"/>
<circle cx="486.6" cy="355.1" r="2.50" fill="#d5008f"/>
<circle cx="488.6" cy="341.4" r="2.50" fill="#d6008e"/>
<circle cx="488.6" cy="344.9" r="2.50" fill="#e10085"/>
<circle cx="488.6" cy="348.4" r="2.50" fill="#c50099"/>
<circle cx="488.6" cy="351.8" r="2.50" fill="#e50080"/>
<circle cx="488.6" cy="355.3" r="2.50" fill="#dd0088"/>
<circle cx="490.6" cy="342.4" r="2.50" fill="#e50081"/>
<circle cx="490.6" cy="346.2" r="2.50" fill="#e8007d"/>
<circle cx="490.6" cy="350.1" r="2.50" fill="#d9008c"/>
<circle cx="490.6" cy="354.0" r="2.50" fill="#d6008e"/>
<circle cx="492.6" cy="340.9" r="2.50" fill="#e00085"/>
<circle cx="492.6" cy="344.1" r="2.50" fill="#da008b"/>
<circle cx="492.6" cy="347.3" r="2.50" fill="#e50081"/>
<circle cx="492.6" cy="350.5" r="2.50" fill="#dc0089"/>
<circle cx="492.6" cy="353.6" r="2.50" fill="#da008a"/>
<circle cx="492.6" cy="356.8" r="2.50" fill="#da008b"/>
<circle cx="494.6" cy="343.2" r="2.50" fill="#de0087"/>
<circle cx="494.6" cy="346.6" r="2.50" fill="#df0086"/>
<circle cx="494.6" cy="350.0" r="2.50" fill="#e10085"/>
<circle cx="494.6" cy="353.4" r="2.50" fill="#e40081"/>
<circle cx="496.6" cy="346.4" r="2.50" fill="#ce0094"/>
<circle cx="496.6" cy="351.3" r="2.50" fill="#da008b"/>
<circle cx="498.6" cy="347.4" r="2.50" fill="#cc0095"/>
<circle cx="500.8" cy="349.9" r="2.50" fill="#bd009f"/>
<circle cx="503.0" cy="347.9" r="2.50" fill="#c4009a"/>
<circle cx="339.4" cy="348.8" r="2.50" fill="#8443c6"/>
<circle cx="451.0" cy="348.8" r="2.50" fill="#9b23ad"/>
<circle cx="458.5" cy="348.8" r="2.50" fill="#9b23ad"/>
<circle cx="462.0" cy="348.8" r="2.50" fill="#9b23ad"/>
<circle cx="466.0" cy="348.8" r="2.50" fill="#9b23ad"/>
<circle cx="516.3" cy="348.8" r="2.50" fill="#9b23ad"/>
<circle cx="354.0" cy="386.2" r="2.50" fill="#8641c4"/>
<circle cx="357.5" cy="386.1" r="2.50" fill="#744fd1"/>
<circle cx="361.2" cy="386.4" r="2.50" fill="#6956d7"/>
<circle cx="365.0" cy="386.5" r="2.50" fill="#6e53d5"/>
<circle cx="368.7" cy="386.1" r="2.50" fill="#7f47ca"/>
<circle cx="372.0" cy="385.4" r="2.50" fill="#8c3bbf"/>
<circle cx="374.2" cy="387.2" r="2.50" fill="#9035ba"/>
<circle cx="383.0" cy="375.2" r="2.50" fill="#0082f8"/>
<circle cx="383.0" cy="378.9" r="2.50" fill="#0085f9"/>
<circle cx="383.0" cy="382.6" r="2.50" fill="#0084f9"/>
<circle cx="383.0" cy="386.2" r="2.50" fill="#0082f8"/>
<circle cx="383.0" cy="389.9" r="2.50" fill="#0082f8"/>
<circle cx="383.0" cy="393.6" r="2.50" fill="#008afb"/>
<circle cx="383.0" cy="397.2" r="2.50" fill="#0085f9"/>
<circle cx="376.0" cy="388.2" r="2.50" fill="#0080f7"/>
<circle cx="378.2" cy="383.4" r="2.50" fill="#0082f8"/>
<circle cx="378.2" cy="387.9" r="2.50" fill="#0086fa"/>
<circle cx="380.2" cy="382.5" r="2.50" fill="#0087fa"/>
<circle cx="380.2" cy="386.5" r="2.50" fill="#0080f7"/>
<circle cx="380.2" cy="390.4" r="2.50" fill="#0087fa"/>
<circle cx="382.2" cy="382.6" r="2.50" fill="#0086fa"/>
<circle cx="382.2" cy="386.2" r="2.50" fill="#0084f9"/>
<circle cx="382.2" cy="389.7" r="2.50" fill="#007df6"/>
<circle cx="384.2" cy="382.3" r="2.50" fill="#007ff7"/>
<circle cx="384.2" cy="386.2" r="2.50" fill="#007ef6"/>
<circle cx="384.2" cy="390.2" r="2.50" fill="#0089fa"/>
<circle cx="386.2" cy="383.5" r="2.50" fill="#0085f9"/>
<circle cx="386.2" cy="386.6" r="2.50" fill="#0081f7"/>
<circle cx="386.2" cy="389.8" r="2.50" fill="#0089fa"/>
<circle cx="388.2" cy="383.9" r="2.50" fill="#0082f8"/>
<circle cx="388.2" cy="386.5" r="2.50" fill="#0082f8"/>
<circle cx="388.2" cy="389.1" r="2.50" fill="#0087fa"/>
<circle cx="390.2" cy="383.6" r="2.50" fill="#0080f7"/>
<circle cx="390.2" cy="388.4" r="2.50" fill="#0085f9"/>
<circle cx="392.2" cy="383.3" r="2.50" fill="#0087fa"/>
<circle cx="392.2" cy="386.2" r="2.50" fill="#0084f9"/>
<circle cx="392.2" cy="389.2" r="2.50" fill="#0085f9"/>
<circle cx="394.2" cy="383.6" r="2.50" fill="#0086f9"/>
<circle cx="394.2" cy="386.2" r="2.50" fill="#0084f9"/>
<circle cx="394.2" cy="388.8" r="2.50" fill="#0084f9"/>
<circle cx="396.2" cy="388.2" r="2.50" fill="#0083f8"/>
<circle cx="398.4" cy="385.1" r="2.50" fill="#0082f8"/>
<circle cx="444.1" cy="385.9" r="2.50" fill="#f3006f"/>
<circle cx="447.6" cy="385.5" r="2.50" fill="#e8007d"/>
<circle cx="449.8" cy="387.0" r="2.50" fill="#da008b"/>
<circle cx="452.0" cy="385.4" r="2.50" fill="#d8008c"/>
<circle cx="454.2" cy="387.1" r="2.50" fill="#ea007b"/>
<circle cx="456.4" cy="385.3" r="2.50" fill="#e9007c"/>
<circle cx="458.6" cy="383.1" r="2.50" fill="#f3006f"/>
<circle cx="458.6" cy="386.4" r="2.50" fill="#e9007c"/>
<circle cx="458.6" cy="389.7" r="2.50" fill="#e50080"/>
<circle cx="460.6" cy="376.4" r="2.50" fill="#fd005f"/>
<circle cx="460.6" cy="379.7" r="2.50" fill="#f10073"/>
<circle cx="460.6" cy="383.1" r="2.50" fill="#f10072"/>
<circle cx="460.6" cy="386.4" r="2.50" fill="#f5006d"/>
<circle cx="460.6" cy="389.8" r="2.50" fill="#e9007c"/>
<circle cx="460.6" cy="393.1" r="2.50" fill="#f10072"/>
<circle cx="460.6" cy="396.5" r="2.50" fill="#fb0062"/>
<circle cx="462.6" cy="376.2" r="2.50" fill="#f5006d"/>
<circle cx="462.6" cy="379.6" r="2.50" fill="#f90066"/>
<circle cx="462.6" cy="383.0" r="2.50" fill="#ee0076"/>
<circle cx="462.6" cy="386.5" r="2.50" fill="#f80068"/>
<circle cx="462.6" cy="389.9" r="2.50" fill="#e9007c"/>
<circle cx="462.6" cy="393.3" r="2.50" fill="#fd005f"/>
<circle cx="462.6" cy="396.7" r="2.50" fill="#f6006b"/>
<circle cx="464.6" cy="374.7" r="2.50" fill="#fe005c"/>
<circle cx="464.6" cy="377.9" r="2.50" fill="#fa0064"/>
<circle cx="464.6" cy="381.1" r="2.50" fill="#f5006d"/>
<circle cx="464.6" cy="384.2" r="2.50" fill="#c90097"/>
<circle cx="464.6" cy="387.4" r="2.50" fill="#ea007b"/>
<circle cx="464.6" cy="390.6" r="2.50" fill="#fd005e"/>
<circle cx="464.6" cy="393.8" r="2.50" fill="#f80068"/>
<circle cx="464.6" cy="397.0" r="2.50" fill="#ff005a"/>
<circle cx="466.6" cy="375.0" r="2.50" fill="#f5006d"/>
<circle cx="466.6" cy="378.3" r="2.50" fill="#d4008f"/>
<circle cx="466.6" cy="381.5" r="2.50" fill="#f5006d"/>
<circle cx="466.6" cy="384.7" r="2.50" fill="#fb0063"/>
<circle cx="466.6" cy="388.0" r="2.50" fill="#ed0078"/>
<circle cx="466.6" cy="391.2" r="2.50" fill="#f20071"/>
<circle cx="466.6" cy="394.4" r="2.50" fill="#b900a0"/>
<circle cx="466.6" cy="397.7" r="2.50" fill="#fa0066"/>
<circle cx="468.6" cy="378.9" r="2.50" fill="#d9008c"/>
<circle cx="468.6" cy="382.5" r="2.50" fill="#e10085"/>
<circle cx="468.6" cy="386.1" r="2.50" fill="#ed0077"/>
<circle cx="468.6" cy="389.7" r="2.50" fill="#ed0078"/>
<circle cx="468.6" cy="393.3" r="2.50" fill="#e50080"/>
<circle cx="470.6" cy="383.9" r="2.50" fill="#d20091"/>
<circle cx="470.6" cy="388.6" r="2.50" fill="#cb0096"/>
<circle cx="472.6" cy="385.2" r="2.50" fill="#bc009f"/>
<circle cx="474.8" cy="387.2" r="2.50" fill="#c1009c"/>
<circle cx="477.0" cy="385.2" r="2.50" fill="#be009d"/>
<circle cx="479.2" cy="387.2" r="2.50" fill="#d6008e"/>
<circle cx="481.4" cy="385.2" r="2.50" fill="#9f20ab"/>
<circle cx="483.6" cy="387.4" r="2.50" fill="#c90097"/>
<circle cx="485.8" cy="384.5" r="2.50" fill="#cc0095"/>
<circle cx="488.0" cy="388.0" r="2.50" fill="#c2009b"/>
<circle cx="490.2" cy="385.0" r="2.50" fill="#bf009d"/>
<circle cx="317.0" cy="386.2" r="2.50" fill="#8443c6"/>
<circle cx="323.3" cy="386.2" r="2.50" fill="#8443c6"/>
<circle cx="420.0" cy="386.2" r="2.50" fill="#9135ba"/>
<circle cx="428.0" cy="386.2" r="2.50" fill="#f90067"/>
<circle cx="432.0" cy="386.2" r="2.50" fill="#d5008f"/>
<circle cx="435.0" cy="386.2" r="2.50" fill="#bb00a0"/>
<circle cx="500.6" cy="386.2" r="2.50" fill="#9b23ad"/>
<circle cx="360.6" cy="423.7" r="2.50" fill="#7052d4"/>
<circle cx="364.1" cy="423.7" r="2.50" fill="#5d5cdd"/>
<circle cx="367.6" cy="423.6" r="2.50" fill="#3b68e7"/>
<circle cx="371.1" cy="423.9" r="2.50" fill="#5a5dde"/>
<circle cx="375.1" cy="424.1" r="2.50" fill="#4964e4"/>
<circle cx="378.6" cy="423.5" r="2.50" fill="#196deb"/>
<circle cx="379.0" cy="421.3" r="2.50" fill="#0085f9"/>
<circle cx="379.0" cy="426.1" r="2.50" fill="#007ef6"/>
<circle cx="381.0" cy="420.7" r="2.50" fill="#0082f8"/>
<circle cx="381.0" cy="423.9" r="2.50" fill="#0080f7"/>
<circle cx="381.0" cy="427.1" r="2.50" fill="#007ef6"/>
<circle cx="383.0" cy="418.6" r="2.50" fill="#0084f9"/>
<circle cx="383.0" cy="422.2" r="2.50" fill="#0083f8"/>
<circle cx="383.0" cy="425.9" r="2.50" fill="#0083f8"/>
<circle cx="383.0" cy="429.6" r="2.50" fill="#0080f7"/>
<circle cx="385.0" cy="417.5" r="2.50" fill="#0080f7"/>
<circle cx="385.0" cy="420.5" r="2.50" fill="#0080f7"/>
<circle cx="385.0" cy="423.5" r="2.50" fill="#007df5"/>
<circle cx="385.0" cy="426.5" r="2.50" fill="#0084f9"/>
<circle cx="385.0" cy="429.5" r="2.50" fill="#0086fa"/>
<circle cx="387.0" cy="417.0" r="2.50" fill="#0080f7"/>
<circle cx="387.0" cy="420.1" r="2.50" fill="#0087fa"/>
<circle cx="387.0" cy="423.2" r="2.50" fill="#0086f9"/>
<circle cx="387.0" cy="426.3" r="2.50" fill="#0084f9"/>
<circle cx="387.0" cy="429.4" r="2.50" fill="#007df6"/>
<circle cx="389.0" cy="418.2" r="2.50" fill="#0081f7"/>
<circle cx="389.0" cy="421.5" r="2.50" fill="#0084f9"/>
<circle cx="389.0" cy="424.8" r="2.50" fill="#0081f7"/>
<circle cx="389.0" cy="428.1" r="2.50" fill="#0083f8"/>
<circle cx="391.0" cy="419.3" r="2.50" fill="#0084f9"/>
<circle cx="391.0" cy="423.4" r="2.50" fill="#0083f8"/>
<circle cx="391.0" cy="427.4" r="2.50" fill="#0088fa"/>
<circle cx="393.0" cy="420.9" r="2.50" fill="#0085f9"/>
<circle cx="393.0" cy="426.0" r="2.50" fill="#0085f9"/>
<circle cx="464.8" cy="411.9" r="2.50" fill="#f30070"/>
<circle cx="464.8" cy="415.3" r="2.50" fill="#ee0076"/>
<circle cx="464.8" cy="418.6" r="2.50" fill="#fc0060"/>
<circle cx="464.8" cy="422.0" r="2.50" fill="#fb0062"/>
<circle cx="464.8" cy="425.4" r="2.50" fill="#f4006f"/>
<circle cx="464.8" cy="428.8" r="2.50" fill="#f20071"/>
<circle cx="464.8" cy="432.1" r="2.50" fill="#f6006b"/>
<circle cx="464.8" cy="435.5" r="2.50" fill="#fb0062"/>
<circle cx="443.6" cy="423.6" r="2.50" fill="#f00074"/>
<circle cx="447.2" cy="423.0" r="2.50" fill="#e10085"/>
<circle cx="449.4" cy="424.8" r="2.50" fill="#eb007a"/>
<circle cx="451.6" cy="422.2" r="2.50" fill="#ea007b"/>
<circle cx="453.8" cy="425.6" r="2.50" fill="#f30070"/>
<circle cx="456.0" cy="421.5" r="2.50" fill="#f7006a"/>
<circle cx="458.2" cy="421.3" r="2.50" fill="#ec0079"/>
<circle cx="458.2" cy="426.1" r="2.50" fill="#d30091"/>
<circle cx="460.2" cy="420.8" r="2.50" fill="#f5006d"/>
<circle cx="460.2" cy="423.6" r="2.50" fill="#fe005d"/>
<circle cx="460.2" cy="426.4" r="2.50" fill="#fa0065"/>
<circle cx="462.2" cy="421.1" r="2.50" fill="#f6006b"/>
<circle cx="462.2" cy="424.1" r="2.50" fill="#f6006c"/>
<circle cx="462.2" cy="427.0" r="2.50" fill="#fd005f"/>
<circle cx="464.2" cy="421.2" r="2.50" fill="#f80069"/>
<circle cx="464.2" cy="423.8" r="2.50" fill="#f5006c"/>
<circle cx="464.2" cy="426.4" r="2.50" fill="#f80068"/>
<circle cx="466.2" cy="420.6" r="2.50" fill="#d20091"/>
<circle cx="466.2" cy="424.0" r="2.50" fill="#f10073"/>
<circle cx="466.2" cy="427.3" r="2.50" fill="#fb0063"/>
<circle cx="468.2" cy="420.4" r="2.50" fill="#fa0064"/>
<circle cx="468.2" cy="423.4" r="2.50" fill="#f90066"/>
<circle cx="468.2" cy="426.3" r="2.50" fill="#fc0061"/>
<circle cx="470.2" cy="419.8" r="2.50" fill="#ea007b"/>
<circle cx="470.2" cy="423.6" r="2.50" fill="#f80068"/>
<circle cx="470.2" cy="427.3" r="2.50" fill="#f5006d"/>
<circle cx="472.2" cy="420.4" r="2.50" fill="#e8007d"/>
<circle cx="472.2" cy="423.7" r="2.50" fill="#e9007c"/>
<circle cx="472.2" cy="427.0" r="2.50" fill="#f00073"/>
<circle cx="474.2" cy="420.6" r="2.50" fill="#f00073"/>
<circle cx="474.2" cy="423.3" r="2.50" fill="#d5008f"/>
<circle cx="474.2" cy="426.1" r="2.50" fill="#e20083"/>
<circle cx="476.2" cy="420.9" r="2.50" fill="#bc009f"/>
<circle cx="476.2" cy="423.7" r="2.50" fill="#db008a"/>
<circle cx="476.2" cy="426.4" r="2.50" fill="#c90097"/>
<circle cx="478.2" cy="421.0" r="2.50" fill="#d10092"/>
<circle cx="478.2" cy="423.7" r="2.50" fill="#b507a2"/>
<circle cx="478.2" cy="426.4" r="2.50" fill="#bb009f"/>
<circle cx="480.2" cy="421.5" r="2.50" fill="#bf009d"/>
<circle cx="482.4" cy="425.2" r="2.50" fill="#9233b8"/>
<circle cx="303.4" cy="423.7" r="2.50" fill="#8443c6"/>
<circle cx="310.9" cy="423.7" r="2.50" fill="#8443c6"/>
<circle cx="320.8" cy="423.7" r="2.50" fill="#8443c6"/>
<circle cx="326.5" cy="423.7" r="2.50" fill="#8443c6"/>
<circle cx="399.0" cy="423.7" r="2.50" fill="#9b23ad"/>
<circle cx="403.0" cy="423.7" r="2.50" fill="#9b23ad"/>
<circle cx="409.0" cy="423.7" r="2.50" fill="#9b23ad"/>
<circle cx="413.0" cy="423.7" r="2.50" fill="#9b23ad"/>
<circle cx="420.0" cy="423.7" r="2.50" fill="#ab15a7"/>
<circle cx="436.0" cy="423.7" r="2.50" fill="#f90067"/>
<circle cx="360.1" cy="461.2" r="2.50" fill="#774dd0"/>
<circle cx="363.8" cy="461.2" r="2.50" fill="#8a3dc0"/>
<circle cx="367.1" cy="460.9" r="2.50" fill="#5d5cdd"/>
<circle cx="371.0" cy="461.0" r="2.50" fill="#754ed0"/>
<circle cx="374.4" cy="462.5" r="2.50" fill="#0071ee"/>
<circle cx="376.6" cy="459.3" r="2.50" fill="#007af4"/>
<circle cx="378.8" cy="458.7" r="2.50" fill="#0083f8"/>
<circle cx="378.8" cy="463.6" r="2.50" fill="#0086f9"/>
<circle cx="380.8" cy="458.2" r="2.50" fill="#0085f9"/>
<circle cx="380.8" cy="461.2" r="2.50" fill="#0086f9"/>
<circle cx="380.8" cy="464.1" r="2.50" fill="#007ef6"/>
<circle cx="382.8" cy="458.3" r="2.50" fill="#0080f7"/>
<circle cx="382.8" cy="461.2" r="2.50" fill="#0081f7"/>
<circle cx="382.8" cy="464.0" r="2.50" fill="#0085f9"/>
<circle cx="384.8" cy="459.2" r="2.50" fill="#0086f9"/>
<circle cx="387.0" cy="463.2" r="2.50" fill="#007bf5"/>
<circle cx="389.2" cy="458.7" r="2.50" fill="#007ff6"/>
<circle cx="389.2" cy="463.7" r="2.50" fill="#007df6"/>
<circle cx="391.2" cy="458.3" r="2.50" fill="#0080f7"/>
<circle cx="391.2" cy="461.2" r="2.50" fill="#0084f9"/>
<circle cx="391.2" cy="464.0" r="2.50" fill="#0083f8"/>
<circle cx="393.2" cy="458.2" r="2.50" fill="#007bf4"/>
<circle cx="393.2" cy="461.2" r="2.50" fill="#0080f7"/>
<circle cx="393.2" cy="464.2" r="2.50" fill="#007ef6"/>
<circle cx="395.2" cy="458.9" r="2.50" fill="#007ff7"/>
<circle cx="395.2" cy="463.5" r="2.50" fill="#007bf4"/>
<circle cx="397.2" cy="459.7" r="2.50" fill="#0077f2"/>
<circle cx="399.4" cy="462.2" r="2.50" fill="#007cf5"/>
<circle cx="401.4" cy="461.2" r="2.50" fill="#0073ef"/>
<circle cx="425.0" cy="461.2" r="2.50" fill="#ff005a"/>
<circle cx="428.3" cy="461.2" r="2.50" fill="#ea007b"/>
<circle cx="432.5" cy="461.1" r="2.50" fill="#e40082"/>
<circle cx="435.8" cy="461.3" r="2.50" fill="#d9008b"/>
<circle cx="439.4" cy="461.0" r="2.50" fill="#e9007d"/>
<circle cx="462.8" cy="449.2" r="2.50" fill="#fa0064"/>
<circle cx="462.8" cy="452.6" r="2.50" fill="#e9007c"/>
<circle cx="462.8" cy="456.0" r="2.50" fill="#f90066"/>
<circle cx="462.8" cy="459.5" r="2.50" fill="#f6006b"/>
<circle cx="462.8" cy="462.9" r="2.50" fill="#f4006e"/>
<circle cx="462.8" cy="466.3" r="2.50" fill="#ff0055"/>
<circle cx="462.8" cy="469.7" r="2.50" fill="#f20072"/>
<circle cx="462.8" cy="473.2" r="2.50" fill="#f4006e"/>
<circle cx="465.2" cy="450.4" r="2.50" fill="#f5006d"/>
<circle cx="465.2" cy="454.0" r="2.50" fill="#f20071"/>
<circle cx="465.2" cy="457.6" r="2.50" fill="#f10072"/>
<circle cx="465.2" cy="461.2" r="2.50" fill="#ee0076"/>
<circle cx="465.2" cy="464.8" r="2.50" fill="#f4006e"/>
<circle cx="465.2" cy="468.4" r="2.50" fill="#f90066"/>
<circle cx="465.2" cy="472.0" r="2.50" fill="#eb007a"/>
<circle cx="447.3" cy="461.2" r="2.50" fill="#8f36bb"/>
<circle cx="450.6" cy="461.4" r="2.50" fill="#a41ca9"/>
<circle cx="454.1" cy="460.8" r="2.50" fill="#b20da4"/>
<circle cx="457.8" cy="459.9" r="2.50" fill="#b40aa3"/>
<circle cx="460.0" cy="463.3" r="2.50" fill="#d20091"/>
<circle cx="462.2" cy="458.7" r="2.50" fill="#eb007a"/>
<circle cx="462.2" cy="463.7" r="2.50" fill="#fb0063"/>
<circle cx="464.2" cy="458.7" r="2.50" fill="#f20071"/>
<circle cx="464.2" cy="463.7" r="2.50" fill="#fa0065"/>
<circle cx="466.2" cy="458.7" r="2.50" fill="#f4006e"/>
<circle cx="466.2" cy="463.7" r="2.50" fill="#fa0065"/>
<circle cx="409.4" cy="461.2" r="2.50" fill="#8443c6"/>
<circle cx="375.3" cy="498.5" r="2.50" fill="#575edf"/>
<circle cx="378.9" cy="498.3" r="2.50" fill="#0077f2"/>
<circle cx="382.7" cy="498.9" r="2.50" fill="#2b6be9"/>
<circle cx="386.0" cy="498.9" r="2.50" fill="#0076f1"/>
<circle cx="390.0" cy="498.4" r="2.50" fill="#0078f2"/>
<circle cx="393.7" cy="498.7" r="2.50" fill="#007cf5"/>
<circle cx="395.0" cy="500.7" r="2.50" fill="#0085f9"/>
<circle cx="397.2" cy="495.8" r="2.50" fill="#0082f8"/>
<circle cx="397.2" cy="498.5" r="2.50" fill="#0084f9"/>
<circle cx="397.2" cy="501.2" r="2.50" fill="#0088fa"/>
<circle cx="399.2" cy="493.0" r="2.50" fill="#0085f9"/>
<circle cx="399.2" cy="496.9" r="2.50" fill="#0088fa"/>
<circle cx="399.2" cy="500.8" r="2.50" fill="#0089fa"/>
<circle cx="399.2" cy="504.8" r="2.50" fill="#0083f8"/>
<circle cx="401.2" cy="491.2" r="2.50" fill="#0086fa"/>
<circle cx="401.2" cy="494.8" r="2.50" fill="#0085f9"/>
<circle cx="401.2" cy="498.4" r="2.50" fill="#0082f8"/>
<circle cx="401.2" cy="502.0" r="2.50" fill="#0088fa"/>
<circle cx="401.2" cy="505.6" r="2.50" fill="#0084f9"/>
<circle cx="403.2" cy="493.4" r="2.50" fill="#0089fa"/>
<circle cx="403.2" cy="496.8" r="2.50" fill="#0084f9"/>
<circle cx="403.2" cy="500.2" r="2.50" fill="#0087fa"/>
<circle cx="403.2" cy="503.6" r="2.50" fill="#0081f8"/>
<circle cx="405.2" cy="491.5" r="2.50" fill="#0086f9"/>
<circle cx="405.2" cy="495.1" r="2.50" fill="#0088fa"/>
<circle cx="405.2" cy="498.7" r="2.50" fill="#0080f7"/>
<circle cx="405.2" cy="502.3" r="2.50" fill="#0086fa"/>
<circle cx="405.2" cy="505.9" r="2.50" fill="#0083f8"/>
<circle cx="464.2" cy="486.8" r="2.50" fill="#f3006f"/>
<circle cx="464.2" cy="490.2" r="2.50" fill="#f20072"/>
<circle cx="464.2" cy="493.6" r="2.50" fill="#f20071"/>
<circle cx="464.2" cy="497.0" r="2.50" fill="#f80068"/>
<circle cx="464.2" cy="500.3" r="2.50" fill="#f10073"/>
<circle cx="464.2" cy="503.7" r="2.50" fill="#fd005e"/>
<circle cx="464.2" cy="507.1" r="2.50" fill="#fb0062"/>
<circle cx="464.2" cy="510.4" r="2.50" fill="#ef0076"/>
<circle cx="451.0" cy="499.4" r="2.50" fill="#cb0096"/>
<circle cx="453.2" cy="497.2" r="2.50" fill="#cc0095"/>
<circle cx="455.4" cy="500.7" r="2.50" fill="#de0088"/>
<circle cx="457.6" cy="496.3" r="2.50" fill="#ea007b"/>
<circle cx="457.6" cy="501.0" r="2.50" fill="#ed0077"/>
<circle cx="459.6" cy="495.6" r="2.50" fill="#f5006d"/>
<circle cx="459.6" cy="498.6" r="2.50" fill="#f20071"/>
<circle cx="459.6" cy="501.6" r="2.50" fill="#f6006c"/>
<circle cx="461.6" cy="496.2" r="2.50" fill="#fe005c"/>
<circle cx="461.6" cy="498.8" r="2.50" fill="#f90066"/>
<circle cx="461.6" cy="501.4" r="2.50" fill="#ff0057"/>
<circle cx="463.6" cy="496.4" r="2.50" fill="#c2009c"/>
<circle cx="463.6" cy="499.1" r="2.50" fill="#fe005d"/>
<circle cx="463.6" cy="501.8" r="2.50" fill="#f90066"/>
<circle cx="465.6" cy="495.9" r="2.50" fill="#f80068"/>
<circle cx="465.6" cy="498.7" r="2.50" fill="#ff0056"/>
<circle cx="465.6" cy="501.5" r="2.50" fill="#fb0062"/>
<circle cx="467.6" cy="495.9" r="2.50" fill="#f4006e"/>
<circle cx="467.6" cy="498.9" r="2.50" fill="#f10072"/>
<circle cx="467.6" cy="501.9" r="2.50" fill="#eb007a"/>
<circle cx="469.6" cy="496.6" r="2.50" fill="#fa0065"/>
<circle cx="469.6" cy="501.0" r="2.50" fill="#ff005b"/>
<circle cx="471.6" cy="495.8" r="2.50" fill="#f6006b"/>
<circle cx="471.6" cy="498.6" r="2.50" fill="#fc0061"/>
<circle cx="471.6" cy="501.5" r="2.50" fill="#e6007f"/>
<circle cx="473.6" cy="496.2" r="2.50" fill="#e9007c"/>
<circle cx="473.6" cy="501.1" r="2.50" fill="#fc0060"/>
<circle cx="475.6" cy="500.7" r="2.50" fill="#e20084"/>
<circle cx="477.8" cy="497.0" r="2.50" fill="#e8007d"/>
<circle cx="480.0" cy="499.8" r="2.50" fill="#de0087"/>
<circle cx="270.0" cy="498.6" r="2.50" fill="#f90067"/>
<circle cx="359.0" cy="498.6" r="2.50" fill="#9135ba"/>
<circle cx="368.0" cy="498.6" r="2.50" fill="#d5008f"/>
<circle cx="372.0" cy="498.6" r="2.50" fill="#c80098"/>
<circle cx="409.0" cy="498.6" r="2.50" fill="#6359da"/>
<circle cx="415.0" cy="498.6" r="2.50" fill="#007cf5"/>
<circle cx="425.0" cy="498.6" r="2.50" fill="#f90067"/>
<circle cx="443.6" cy="498.6" r="2.50" fill="#f90067"/>
<circle cx="360.7" cy="536.2" r="2.50" fill="#615adb"/>
<circle cx="364.1" cy="535.1" r="2.50" fill="#0074f0"/>
<circle cx="366.3" cy="537.9" r="2.50" fill="#0081f7"/>
<circle cx="368.5" cy="533.6" r="2.50" fill="#0081f8"/>
<circle cx="368.5" cy="538.6" r="2.50" fill="#0085f9"/>
<circle cx="370.5" cy="533.8" r="2.50" fill="#007af4"/>
<circle cx="370.5" cy="538.4" r="2.50" fill="#007ef6"/>
<circle cx="372.5" cy="534.6" r="2.50" fill="#007cf5"/>
<circle cx="374.7" cy="537.1" r="2.50" fill="#0083f8"/>
<circle cx="376.9" cy="535.2" r="2.50" fill="#0076f2"/>
<circle cx="379.1" cy="536.9" r="2.50" fill="#007bf5"/>
<circle cx="381.3" cy="535.3" r="2.50" fill="#066fec"/>
<circle cx="383.5" cy="536.8" r="2.50" fill="#0071ee"/>
<circle cx="385.5" cy="535.8" r="2.50" fill="#4d62e2"/>
<circle cx="433.4" cy="523.7" r="2.50" fill="#f20071"/>
<circle cx="433.4" cy="527.3" r="2.50" fill="#e30083"/>
<circle cx="433.4" cy="530.8" r="2.50" fill="#f6006c"/>
<circle cx="433.4" cy="534.3" r="2.50" fill="#ef0075"/>
<circle cx="433.4" cy="537.9" r="2.50" fill="#f7006a"/>
<circle cx="433.4" cy="541.4" r="2.50" fill="#f70069"/>
<circle cx="433.4" cy="545.0" r="2.50" fill="#f6006c"/>
<circle cx="433.4" cy="548.5" r="2.50" fill="#f7006a"/>
<circle cx="420.2" cy="536.1" r="2.50" fill="#d10092"/>
<circle cx="423.6" cy="535.3" r="2.50" fill="#fd005f"/>
<circle cx="425.8" cy="537.0" r="2.50" fill="#fa0065"/>
<circle cx="428.0" cy="535.2" r="2.50" fill="#ed0078"/>
<circle cx="430.2" cy="537.1" r="2.50" fill="#f80068"/>
<circle cx="432.4" cy="535.1" r="2.50" fill="#fc0062"/>
<circle cx="434.6" cy="536.9" r="2.50" fill="#f20071"/>
<circle cx="436.8" cy="535.4" r="2.50" fill="#f5006d"/>
<circle cx="439.0" cy="536.8" r="2.50" fill="#e7007e"/>
<circle cx="441.3" cy="536.3" r="2.50" fill="#cc0095"/>
<circle cx="444.9" cy="535.6" r="2.50" fill="#c1009c"/>
<circle cx="448.3" cy="536.2" r="2.50" fill="#b30ba3"/>
<circle cx="328.2" cy="536.1" r="2.50" fill="#8443c6"/>
<circle cx="332.0" cy="536.1" r="2.50" fill="#8443c6"/>
<circle cx="343.0" cy="536.1" r="2.50" fill="#8443c6"/>
<circle cx="348.0" cy="536.1" r="2.50" fill="#8443c6"/>
<circle cx="353.0" cy="536.1" r="2.50" fill="#8443c6"/>
<circle cx="452.5" cy="536.1" r="2.50" fill="#9135ba"/>
<circle cx="400.8" cy="561.6" r="2.50" fill="#007cf5"/>
<circle cx="400.8" cy="565.0" r="2.50" fill="#007cf5"/>
<circle cx="400.8" cy="568.4" r="2.50" fill="#007bf5"/>
<circle cx="400.8" cy="571.9" r="2.50" fill="#0080f7"/>
<circle cx="400.8" cy="575.3" r="2.50" fill="#0077f2"/>
<circle cx="400.8" cy="578.7" r="2.50" fill="#007ff7"/>
<circle cx="400.8" cy="582.2" r="2.50" fill="#0086f9"/>
<circle cx="400.8" cy="585.6" r="2.50" fill="#007ff7"/>
<circle cx="379.3" cy="573.7" r="2.50" fill="#774dd0"/>
<circle cx="382.6" cy="572.6" r="2.50" fill="#7152d3"/>
<circle cx="384.8" cy="574.6" r="2.50" fill="#8d3abe"/>
<circle cx="387.0" cy="572.6" r="2.50" fill="#7b4acc"/>
<circle cx="389.2" cy="575.1" r="2.50" fill="#0071ee"/>
<circle cx="391.4" cy="571.6" r="2.50" fill="#0083f8"/>
<circle cx="393.6" cy="575.8" r="2.50" fill="#0082f8"/>
<circle cx="395.8" cy="571.2" r="2.50" fill="#007df6"/>
<circle cx="395.8" cy="575.9" r="2.50" fill="#0083f8"/>
<circle cx="397.8" cy="571.1" r="2.50" fill="#0080f7"/>
<circle cx="397.8" cy="576.1" r="2.50" fill="#007ef6"/>
<circle cx="399.8" cy="571.1" r="2.50" fill="#007cf5"/>
<circle cx="399.8" cy="576.1" r="2.50" fill="#0085f9"/>
<circle cx="401.8" cy="571.1" r="2.50" fill="#0085f9"/>
<circle cx="401.8" cy="576.1" r="2.50" fill="#0082f8"/>
<circle cx="403.8" cy="571.1" r="2.50" fill="#0084f9"/>
<circle cx="403.8" cy="576.1" r="2.50" fill="#0082f8"/>
<circle cx="405.8" cy="571.1" r="2.50" fill="#0081f7"/>
<circle cx="405.8" cy="576.1" r="2.50" fill="#007ff7"/>
<circle cx="407.8" cy="571.1" r="2.50" fill="#007ef6"/>
<circle cx="407.8" cy="576.1" r="2.50" fill="#007ff6"/>
<circle cx="409.8" cy="571.2" r="2.50" fill="#007ff6"/>
<circle cx="409.8" cy="575.9" r="2.50" fill="#007df5"/>
<circle cx="411.8" cy="571.6" r="2.50" fill="#007ef6"/>
<circle cx="460.8" cy="561.6" r="2.50" fill="#f70069"/>
<circle cx="460.8" cy="565.0" r="2.50" fill="#f4006e"/>
<circle cx="460.8" cy="568.4" r="2.50" fill="#f80068"/>
<circle cx="460.8" cy="571.9" r="2.50" fill="#f80069"/>
<circle cx="460.8" cy="575.3" r="2.50" fill="#f3006f"/>
<circle cx="460.8" cy="578.7" r="2.50" fill="#f6006b"/>
<circle cx="460.8" cy="582.2" r="2.50" fill="#f20071"/>
<circle cx="460.8" cy="585.6" r="2.50" fill="#f6006b"/>
<circle cx="440.0" cy="574.3" r="2.50" fill="#e8007d"/>
<circle cx="442.2" cy="572.3" r="2.50" fill="#ea007b"/>
<circle cx="444.4" cy="575.6" r="2.50" fill="#e8007d"/>
<circle cx="446.6" cy="570.8" r="2.50" fill="#ed0078"/>
<circle cx="446.6" cy="573.6" r="2.50" fill="#fb0064"/>
<circle cx="446.6" cy="576.4" r="2.50" fill="#f4006e"/>
<circle cx="448.6" cy="570.1" r="2.50" fill="#c90097"/>
<circle cx="448.6" cy="573.5" r="2.50" fill="#e6007f"/>
<circle cx="448.6" cy="576.9" r="2.50" fill="#f80068"/>
<circle cx="450.6" cy="570.0" r="2.50" fill="#f10072"/>
<circle cx="450.6" cy="573.7" r="2.50" fill="#f00073"/>
<circle cx="450.6" cy="577.4" r="2.50" fill="#f90066"/>
<circle cx="452.6" cy="569.7" r="2.50" fill="#f5006d"/>
<circle cx="452.6" cy="573.4" r="2.50" fill="#e30082"/>
<circle cx="452.6" cy="577.1" r="2.50" fill="#f30070"/>
<circle cx="454.6" cy="570.6" r="2.50" fill="#f80068"/>
<circle cx="454.6" cy="573.7" r="2.50" fill="#ec0078"/>
<circle cx="454.6" cy="576.8" r="2.50" fill="#fd0060"/>
<circle cx="456.6" cy="569.1" r="2.50" fill="#f5006d"/>
<circle cx="456.6" cy="572.0" r="2.50" fill="#ec0079"/>
<circle cx="456.6" cy="574.9" r="2.50" fill="#db008a"/>
<circle cx="456.6" cy="577.8" r="2.50" fill="#ed0077"/>
<circle cx="458.6" cy="569.7" r="2.50" fill="#e30083"/>
<circle cx="458.6" cy="573.5" r="2.50" fill="#fb0063"/>
<circle cx="458.6" cy="577.3" r="2.50" fill="#f7006a"/>
<circle cx="460.6" cy="569.8" r="2.50" fill="#f80067"/>
<circle cx="460.6" cy="573.0" r="2.50" fill="#fa0065"/>
<circle cx="460.6" cy="576.3" r="2.50" fill="#f6006c"/>
<circle cx="462.6" cy="570.2" r="2.50" fill="#f6006b"/>
<circle cx="462.6" cy="573.6" r="2.50" fill="#c90097"/>
<circle cx="462.6" cy="577.0" r="2.50" fill="#fb0063"/>
<circle cx="464.6" cy="570.5" r="2.50" fill="#f00073"/>
<circle cx="464.6" cy="573.4" r="2.50" fill="#ed0077"/>
<circle cx="464.6" cy="576.2" r="2.50" fill="#f80068"/>
<circle cx="466.6" cy="571.7" r="2.50" fill="#f7006a"/>
<circle cx="466.6" cy="575.2" r="2.50" fill="#ff005b"/>
<circle cx="468.6" cy="571.3" r="2.50" fill="#f4006e"/>
<circle cx="468.6" cy="575.9" r="2.50" fill="#f70069"/>
<circle cx="421.3" cy="573.6" r="2.50" fill="#9135ba"/>
<circle cx="429.5" cy="573.6" r="2.50" fill="#9135ba"/>
<circle cx="436.8" cy="573.6" r="2.50" fill="#f20072"/>
<circle cx="378.6" cy="608.3" r="2.50" fill="#0082f8"/>
<circle cx="378.6" cy="611.0" r="2.50" fill="#0085f9"/>
<circle cx="378.6" cy="613.8" r="2.50" fill="#0086fa"/>
<circle cx="380.6" cy="606.3" r="2.50" fill="#007df5"/>
<circle cx="380.6" cy="609.2" r="2.50" fill="#0081f8"/>
<circle cx="380.6" cy="612.2" r="2.50" fill="#0081f7"/>
<circle cx="380.6" cy="615.1" r="2.50" fill="#0086fa"/>
<circle cx="382.6" cy="607.3" r="2.50" fill="#0083f8"/>
<circle cx="382.6" cy="611.5" r="2.50" fill="#0084f9"/>
<circle cx="382.6" cy="615.7" r="2.50" fill="#0080f7"/>
<circle cx="384.6" cy="605.4" r="2.50" fill="#007ff6"/>
<circle cx="384.6" cy="609.3" r="2.50" fill="#007ff7"/>
<circle cx="384.6" cy="613.1" r="2.50" fill="#0080f7"/>
<circle cx="384.6" cy="617.0" r="2.50" fill="#007df5"/>
<circle cx="386.6" cy="608.6" r="2.50" fill="#007ff7"/>
<circle cx="386.6" cy="611.4" r="2.50" fill="#0080f7"/>
<circle cx="386.6" cy="614.3" r="2.50" fill="#007ff6"/>
<circle cx="388.6" cy="609.3" r="2.50" fill="#007ef6"/>
<circle cx="390.8" cy="608.6" r="2.50" fill="#0071ee"/>
<circle cx="390.8" cy="613.5" r="2.50" fill="#0073ef"/>
<circle cx="392.8" cy="608.3" r="2.50" fill="#6a55d7"/>
<circle cx="392.8" cy="611.2" r="2.50" fill="#774dcf"/>
<circle cx="392.8" cy="614.1" r="2.50" fill="#6757d9"/>
<circle cx="394.8" cy="608.7" r="2.50" fill="#1b6deb"/>
<circle cx="394.8" cy="611.3" r="2.50" fill="#5e5bdc"/>
<circle cx="394.8" cy="613.9" r="2.50" fill="#4465e5"/>
<circle cx="396.8" cy="608.9" r="2.50" fill="#326ae8"/>
<circle cx="396.8" cy="612.8" r="2.50" fill="#007df5"/>
<circle cx="398.8" cy="609.0" r="2.50" fill="#0079f3"/>
<circle cx="398.8" cy="613.3" r="2.50" fill="#0075f1"/>
<circle cx="400.8" cy="607.4" r="2.50" fill="#0082f8"/>
<circle cx="400.8" cy="611.6" r="2.50" fill="#0079f3"/>
<circle cx="400.8" cy="615.7" r="2.50" fill="#0077f2"/>
<circle cx="402.8" cy="608.2" r="2.50" fill="#007cf5"/>
<circle cx="402.8" cy="611.4" r="2.50" fill="#007df6"/>
<circle cx="402.8" cy="614.7" r="2.50" fill="#007bf4"/>
<circle cx="404.8" cy="608.9" r="2.50" fill="#0078f3"/>
<circle cx="404.8" cy="611.6" r="2.50" fill="#0078f2"/>
<circle cx="404.8" cy="614.2" r="2.50" fill="#007cf5"/>
<circle cx="405.7" cy="611.0" r="2.50" fill="#0077f2"/>
<circle cx="409.6" cy="611.1" r="2.50" fill="#0078f3"/>
<circle cx="413.0" cy="611.2" r="2.50" fill="#007bf4"/>
<circle cx="416.7" cy="611.4" r="2.50" fill="#0077f2"/>
<circle cx="450.0" cy="599.5" r="2.50" fill="#e9007c"/>
<circle cx="450.0" cy="602.8" r="2.50" fill="#ed0077"/>
<circle cx="450.0" cy="606.1" r="2.50" fill="#fd005f"/>
<circle cx="450.0" cy="609.4" r="2.50" fill="#f80068"/>
<circle cx="450.0" cy="612.7" r="2.50" fill="#f7006a"/>
<circle cx="450.0" cy="616.0" r="2.50" fill="#ed0078"/>
<circle cx="450.0" cy="619.3" r="2.50" fill="#f6006b"/>
<circle cx="450.0" cy="622.5" r="2.50" fill="#f6006c"/>
<circle cx="420.0" cy="612.2" r="2.50" fill="#de0087"/>
<circle cx="422.2" cy="609.7" r="2.50" fill="#e9007c"/>
<circle cx="424.4" cy="613.0" r="2.50" fill="#f20071"/>
<circle cx="426.6" cy="608.6" r="2.50" fill="#e30082"/>
<circle cx="426.6" cy="613.5" r="2.50" fill="#ef0076"/>
<circle cx="428.6" cy="608.8" r="2.50" fill="#fe005c"/>
<circle cx="428.6" cy="613.3" r="2.50" fill="#eb007b"/>
<circle cx="430.6" cy="609.4" r="2.50" fill="#df0087"/>
<circle cx="432.8" cy="612.5" r="2.50" fill="#d8008d"/>
<circle cx="435.0" cy="608.6" r="2.50" fill="#c0009c"/>
<circle cx="435.0" cy="613.5" r="2.50" fill="#c3009b"/>
<circle cx="437.0" cy="608.0" r="2.50" fill="#ab16a7"/>
<circle cx="437.0" cy="611.0" r="2.50" fill="#9928b0"/>
<circle cx="437.0" cy="614.0" r="2.50" fill="#b10ea4"/>
<circle cx="439.0" cy="608.2" r="2.50" fill="#b20ca4"/>
<circle cx="439.0" cy="611.0" r="2.50" fill="#b900a0"/>
<circle cx="439.0" cy="613.9" r="2.50" fill="#bd009e"/>
<circle cx="441.0" cy="608.3" r="2.50" fill="#c5009a"/>
<circle cx="441.0" cy="611.0" r="2.50" fill="#c1009c"/>
<circle cx="441.0" cy="613.8" r="2.50" fill="#bb009f"/>
<circle cx="443.0" cy="608.1" r="2.50" fill="#c0009c"/>
<circle cx="443.0" cy="611.0" r="2.50" fill="#d10092"/>
<circle cx="443.0" cy="614.0" r="2.50" fill="#e00086"/>
<circle cx="445.0" cy="608.0" r="2.50" fill="#d20091"/>
<circle cx="445.0" cy="610.7" r="2.50" fill="#d8008d"/>
<circle cx="445.0" cy="613.5" r="2.50" fill="#b901a1"/>
<circle cx="447.0" cy="606.3" r="2.50" fill="#e7007f"/>
<circle cx="447.0" cy="609.4" r="2.50" fill="#f4006f"/>
<circle cx="447.0" cy="612.6" r="2.50" fill="#f30070"/>
<circle cx="447.0" cy="615.7" r="2.50" fill="#f6006b"/>
<circle cx="449.0" cy="605.4" r="2.50" fill="#fb0064"/>
<circle cx="449.0" cy="609.2" r="2.50" fill="#f6006c"/>
<circle cx="449.0" cy="613.1" r="2.50" fill="#f30070"/>
<circle cx="449.0" cy="617.0" r="2.50" fill="#f5006d"/>
<circle cx="451.0" cy="605.6" r="2.50" fill="#f6006c"/>
<circle cx="451.0" cy="609.3" r="2.50" fill="#f5006d"/>
<circle cx="451.0" cy="613.0" r="2.50" fill="#ec0079"/>
<circle cx="451.0" cy="616.6" r="2.50" fill="#f90067"/>
<circle cx="453.0" cy="605.2" r="2.50" fill="#f5006d"/>
<circle cx="453.0" cy="608.2" r="2.50" fill="#f4006e"/>
<circle cx="453.0" cy="611.2" r="2.50" fill="#f80068"/>
<circle cx="453.0" cy="614.2" r="2.50" fill="#fe005e"/>
<circle cx="453.0" cy="617.2" r="2.50" fill="#e6007f"/>
<circle cx="455.0" cy="603.3" r="2.50" fill="#ff0059"/>
<circle cx="455.0" cy="606.5" r="2.50" fill="#f80068"/>
<circle cx="455.0" cy="609.7" r="2.50" fill="#f4006e"/>
<circle cx="455.0" cy="613.0" r="2.50" fill="#f80069"/>
<circle cx="455.0" cy="616.2" r="2.50" fill="#fa0066"/>
<circle cx="455.0" cy="619.4" r="2.50" fill="#f5006c"/>
<circle cx="457.0" cy="603.9" r="2.50" fill="#f90066"/>
<circle cx="457.0" cy="607.3" r="2.50" fill="#f4006e"/>
<circle cx="457.0" cy="610.8" r="2.50" fill="#fa0065"/>
<circle cx="457.0" cy="614.3" r="2.50" fill="#c90097"/>
<circle cx="457.0" cy="617.8" r="2.50" fill="#eb007a"/>
<circle cx="459.0" cy="607.6" r="2.50" fill="#ff0053"/>
<circle cx="459.0" cy="610.9" r="2.50" fill="#fc0060"/>
<circle cx="459.0" cy="614.3" r="2.50" fill="#f80069"/>
<circle cx="461.6" cy="611.0" r="2.50" fill="#f90067"/>
<circle cx="380.5" cy="648.2" r="2.50" fill="#565fdf"/>
<circle cx="391.0" cy="636.7" r="2.50" fill="#0087fa"/>
<circle cx="391.0" cy="640.1" r="2.50" fill="#0083f8"/>
<circle cx="391.0" cy="643.5" r="2.50" fill="#0083f8"/>
<circle cx="391.0" cy="646.8" r="2.50" fill="#0084f9"/>
<circle cx="391.0" cy="650.2" r="2.50" fill="#0083f8"/>
<circle cx="391.0" cy="653.6" r="2.50" fill="#0084f9"/>
<circle cx="391.0" cy="656.9" r="2.50" fill="#0084f9"/>
<circle cx="391.0" cy="660.3" r="2.50" fill="#0086f9"/>
<circle cx="384.0" cy="650.6" r="2.50" fill="#008bfb"/>
<circle cx="386.2" cy="645.2" r="2.50" fill="#0085f9"/>
<circle cx="386.2" cy="648.5" r="2.50" fill="#0081f7"/>
<circle cx="386.2" cy="651.9" r="2.50" fill="#0086f9"/>
<circle cx="388.2" cy="644.3" r="2.50" fill="#0083f8"/>
<circle cx="388.2" cy="647.1" r="2.50" fill="#0084f9"/>
<circle cx="388.2" cy="650.0" r="2.50" fill="#0086f9"/>
<circle cx="388.2" cy="652.8" r="2.50" fill="#0085f9"/>
<circle cx="390.2" cy="642.4" r="2.50" fill="#0081f7"/>
<circle cx="390.2" cy="646.3" r="2.50" fill="#0085f9"/>
<circle cx="390.2" cy="650.3" r="2.50" fill="#0086fa"/>
<circle cx="390.2" cy="654.2" r="2.50" fill="#0082f8"/>
<circle cx="392.2" cy="643.0" r="2.50" fill="#0088fa"/>
<circle cx="392.2" cy="646.5" r="2.50" fill="#0083f8"/>
<circle cx="392.2" cy="650.0" r="2.50" fill="#0086f9"/>
<circle cx="392.2" cy="653.5" r="2.50" fill="#0085f9"/>
<circle cx="394.2" cy="643.2" r="2.50" fill="#0084f9"/>
<circle cx="394.2" cy="646.5" r="2.50" fill="#0084f9"/>
<circle cx="394.2" cy="649.9" r="2.50" fill="#0081f7"/>
<circle cx="394.2" cy="653.3" r="2.50" fill="#007ff7"/>
<circle cx="396.2" cy="645.6" r="2.50" fill="#0083f8"/>
<circle cx="396.2" cy="648.7" r="2.50" fill="#0082f8"/>
<circle cx="396.2" cy="651.8" r="2.50" fill="#0085f9"/>
<circle cx="398.2" cy="645.7" r="2.50" fill="#0084f9"/>
<circle cx="398.2" cy="648.5" r="2.50" fill="#0082f8"/>
<circle cx="398.2" cy="651.3" r="2.50" fill="#0082f8"/>
<circle cx="399.0" cy="649.5" r="2.50" fill="#5a5dde"/>
<circle cx="401.2" cy="647.5" r="2.50" fill="#774ed0"/>
<circle cx="403.4" cy="649.5" r="2.50" fill="#8c3abe"/>
<circle cx="405.6" cy="647.5" r="2.50" fill="#8344c7"/>
<circle cx="407.8" cy="649.5" r="2.50" fill="#893ec1"/>
<circle cx="410.0" cy="647.5" r="2.50" fill="#a21eaa"/>
<circle cx="412.2" cy="649.5" r="2.50" fill="#b10ea4"/>
<circle cx="414.4" cy="647.5" r="2.50" fill="#9c23ad"/>
<circle cx="416.6" cy="649.5" r="2.50" fill="#a71aa8"/>
<circle cx="418.8" cy="647.5" r="2.50" fill="#962cb3"/>
<circle cx="421.0" cy="649.6" r="2.50" fill="#bc009f"/>
<circle cx="423.2" cy="647.4" r="2.50" fill="#b409a3"/>
<circle cx="425.4" cy="649.7" r="2.50" fill="#b802a1"/>
<circle cx="427.6" cy="647.3" r="2.50" fill="#b900a0"/>
<circle cx="429.8" cy="649.8" r="2.50" fill="#ed0077"/>
<circle cx="432.0" cy="647.1" r="2.50" fill="#e20083"/>
<circle cx="434.2" cy="650.0" r="2.50" fill="#ef0075"/>
<circle cx="436.4" cy="647.0" r="2.50" fill="#d40090"/>
<circle cx="437.0" cy="650.1" r="2.50" fill="#e7007e"/>
<circle cx="439.2" cy="646.7" r="2.50" fill="#eb007a"/>
<circle cx="441.4" cy="650.6" r="2.50" fill="#eb007a"/>
<circle cx="443.6" cy="645.9" r="2.50" fill="#fc0061"/>
<circle cx="443.6" cy="648.5" r="2.50" fill="#ed0077"/>
<circle cx="443.6" cy="651.1" r="2.50" fill="#da008b"/>
<circle cx="445.6" cy="646.7" r="2.50" fill="#ef0076"/>
<circle cx="445.6" cy="651.2" r="2.50" fill="#f30070"/>
<circle cx="447.6" cy="645.2" r="2.50" fill="#f80068"/>
<circle cx="447.6" cy="648.0" r="2.50" fill="#f7006a"/>
<circle cx="447.6" cy="650.7" r="2.50" fill="#f7006a"/>
<circle cx="449.6" cy="643.9" r="2.50" fill="#fb0062"/>
<circle cx="449.6" cy="647.1" r="2.50" fill="#ff005b"/>
<circle cx="449.6" cy="650.3" r="2.50" fill="#fa0065"/>
<circle cx="449.6" cy="653.5" r="2.50" fill="#fa0065"/>
<circle cx="451.6" cy="644.3" r="2.50" fill="#fc0060"/>
<circle cx="451.6" cy="647.3" r="2.50" fill="#f20071"/>
<circle cx="451.6" cy="650.3" r="2.50" fill="#f5006d"/>
<circle cx="451.6" cy="653.3" r="2.50" fill="#fd005f"/>
<circle cx="453.6" cy="643.9" r="2.50" fill="#ff005a"/>
<circle cx="453.6" cy="647.0" r="2.50" fill="#fe005d"/>
<circle cx="453.6" cy="650.1" r="2.50" fill="#f7006a"/>
<circle cx="453.6" cy="653.2" r="2.50" fill="#fe005e"/>
<circle cx="455.6" cy="646.2" r="2.50" fill="#fb0063"/>
<circle cx="455.6" cy="650.8" r="2.50" fill="#f20071"/>
<circle cx="457.6" cy="645.5" r="2.50" fill="#f5006c"/>
<circle cx="457.6" cy="648.5" r="2.50" fill="#fb0063"/>
<circle cx="457.6" cy="651.5" r="2.50" fill="#fd005f"/>
<circle cx="459.6" cy="645.7" r="2.50" fill="#cc0095"/>
<circle cx="459.6" cy="648.5" r="2.50" fill="#f10072"/>
<circle cx="459.6" cy="651.3" r="2.50" fill="#fd005f"/>
<circle cx="461.6" cy="650.5" r="2.50" fill="#f7006a"/>
<circle cx="370.4" cy="648.5" r="2.50" fill="#8443c6"/>
<circle cx="376.6" cy="648.5" r="2.50" fill="#8443c6"/>
<circle cx="375.7" cy="685.8" r="2.50" fill="#6956d7"/>
<circle cx="379.0" cy="685.6" r="2.50" fill="#615adb"/>
<circle cx="380.7" cy="687.6" r="2.50" fill="#0080f7"/>
<circle cx="382.9" cy="683.1" r="2.50" fill="#007bf4"/>
<circle cx="382.9" cy="686.0" r="2.50" fill="#007df6"/>
<circle cx="382.9" cy="688.9" r="2.50" fill="#0076f2"/>
<circle cx="384.9" cy="681.4" r="2.50" fill="#007ef6"/>
<circle cx="384.9" cy="684.5" r="2.50" fill="#007af4"/>
<circle cx="384.9" cy="687.6" r="2.50" fill="#007cf5"/>
<circle cx="384.9" cy="690.7" r="2.50" fill="#007bf5"/>
<circle cx="386.9" cy="680.2" r="2.50" fill="#007ef6"/>
<circle cx="386.9" cy="683.2" r="2.50" fill="#0080f7"/>
<circle cx="386.9" cy="686.3" r="2.50" fill="#0081f7"/>
<circle cx="386.9" cy="689.3" r="2.50" fill="#0083f8"/>
<circle cx="386.9" cy="692.4" r="2.50" fill="#0082f8"/>
<circle cx="388.9" cy="678.8" r="2.50" fill="#0081f7"/>
<circle cx="388.9" cy="682.4" r="2.50" fill="#0081f8"/>
<circle cx="388.9" cy="686.0" r="2.50" fill="#007ef6"/>
<circle cx="388.9" cy="689.6" r="2.50" fill="#007bf4"/>
<circle cx="388.9" cy="693.1" r="2.50" fill="#007ff7"/>
<circle cx="390.9" cy="678.7" r="2.50" fill="#0084f9"/>
<circle cx="390.9" cy="681.7" r="2.50" fill="#0080f7"/>
<circle cx="390.9" cy="684.8" r="2.50" fill="#0083f8"/>
<circle cx="390.9" cy="687.9" r="2.50" fill="#007df6"/>
<circle cx="390.9" cy="691.0" r="2.50" fill="#007df6"/>
<circle cx="390.9" cy="694.1" r="2.50" fill="#0084f9"/>
<circle cx="392.9" cy="674.7" r="2.50" fill="#0080f7"/>
<circle cx="392.9" cy="678.4" r="2.50" fill="#0085f9"/>
<circle cx="392.9" cy="682.0" r="2.50" fill="#007ff6"/>
<circle cx="392.9" cy="685.7" r="2.50" fill="#0085f9"/>
<circle cx="392.9" cy="689.4" r="2.50" fill="#0087fa"/>
<circle cx="392.9" cy="693.0" r="2.50" fill="#007cf5"/>
<circle cx="392.9" cy="696.7" r="2.50" fill="#0081f8"/>
<circle cx="394.9" cy="675.8" r="2.50" fill="#0083f8"/>
<circle cx="394.9" cy="679.3" r="2.50" fill="#0088fa"/>
<circle cx="394.9" cy="682.7" r="2.50" fill="#0084f9"/>
<circle cx="394.9" cy="686.2" r="2.50" fill="#0082f8"/>
<circle cx="394.9" cy="689.6" r="2.50" fill="#007ef6"/>
<circle cx="394.9" cy="693.1" r="2.50" fill="#007cf5"/>
<circle cx="394.9" cy="696.5" r="2.50" fill="#0089fa"/>
<circle cx="396.5" cy="687.0" r="2.50" fill="#7c4acc"/>
<circle cx="398.7" cy="685.0" r="2.50" fill="#6857d8"/>
<circle cx="400.9" cy="687.0" r="2.50" fill="#8740c3"/>
<circle cx="403.1" cy="685.0" r="2.50" fill="#aa17a7"/>
<circle cx="405.3" cy="687.0" r="2.50" fill="#8a3cc0"/>
<circle cx="407.5" cy="685.0" r="2.50" fill="#a21eaa"/>
<circle cx="409.7" cy="687.0" r="2.50" fill="#be009e"/>
<circle cx="411.9" cy="685.0" r="2.50" fill="#ad13a6"/>
<circle cx="414.1" cy="687.0" r="2.50" fill="#bf009d"/>
<circle cx="416.3" cy="685.0" r="2.50" fill="#a719a8"/>
<circle cx="418.5" cy="687.4" r="2.50" fill="#9d22ac"/>
<circle cx="420.7" cy="684.0" r="2.50" fill="#ce0094"/>
<circle cx="422.9" cy="687.8" r="2.50" fill="#9829b0"/>
<circle cx="425.1" cy="684.8" r="2.50" fill="#ba00a0"/>
<circle cx="427.3" cy="687.0" r="2.50" fill="#9829b1"/>
<circle cx="429.5" cy="685.0" r="2.50" fill="#b802a1"/>
<circle cx="431.7" cy="687.0" r="2.50" fill="#a819a8"/>
<circle cx="433.9" cy="685.0" r="2.50" fill="#a61aa9"/>
<circle cx="436.1" cy="687.0" r="2.50" fill="#ba00a0"/>
<circle cx="437.9" cy="683.1" r="2.50" fill="#f00074"/>
<circle cx="437.9" cy="686.0" r="2.50" fill="#e50080"/>
<circle cx="437.9" cy="688.8" r="2.50" fill="#bb009f"/>
<circle cx="439.9" cy="681.0" r="2.50" fill="#ef0075"/>
<circle cx="439.9" cy="684.1" r="2.50" fill="#f3006f"/>
<circle cx="439.9" cy="687.3" r="2.50" fill="#f80069"/>
<circle cx="439.9" cy="690.4" r="2.50" fill="#e20083"/>
<circle cx="441.9" cy="679.5" r="2.50" fill="#ed0078"/>
<circle cx="441.9" cy="682.7" r="2.50" fill="#f6006c"/>
<circle cx="441.9" cy="686.0" r="2.50" fill="#f20071"/>
<circle cx="441.9" cy="689.2" r="2.50" fill="#f6006c"/>
<circle cx="441.9" cy="692.5" r="2.50" fill="#f5006d"/>
<circle cx="443.9" cy="680.5" r="2.50" fill="#fb0062"/>
<circle cx="443.9" cy="684.3" r="2.50" fill="#f5006c"/>
<circle cx="443.9" cy="688.1" r="2.50" fill="#f7006a"/>
<circle cx="443.9" cy="691.9" r="2.50" fill="#f90066"/>
<circle cx="445.9" cy="680.2" r="2.50" fill="#f80067"/>
<circle cx="445.9" cy="684.0" r="2.50" fill="#f7006a"/>
<circle cx="445.9" cy="687.8" r="2.50" fill="#f80069"/>
<circle cx="445.9" cy="691.6" r="2.50" fill="#fb0062"/>
<circle cx="447.9" cy="676.6" r="2.50" fill="#f7006a"/>
<circle cx="447.9" cy="679.8" r="2.50" fill="#fc0061"/>
<circle cx="447.9" cy="683.0" r="2.50" fill="#fd0060"/>
<circle cx="447.9" cy="686.3" r="2.50" fill="#f80068"/>
<circle cx="447.9" cy="689.5" r="2.50" fill="#ef0075"/>
<circle cx="447.9" cy="692.7" r="2.50" fill="#f90066"/>
<circle cx="447.9" cy="696.0" r="2.50" fill="#f00074"/>
<circle cx="449.9" cy="676.8" r="2.50" fill="#f5006c"/>
<circle cx="449.9" cy="680.3" r="2.50" fill="#ec0079"/>
<circle cx="449.9" cy="683.9" r="2.50" fill="#fa0064"/>
<circle cx="449.9" cy="687.4" r="2.50" fill="#ed0078"/>
<circle cx="449.9" cy="691.0" r="2.50" fill="#f5006d"/>
<circle cx="449.9" cy="694.5" r="2.50" fill="#f10073"/>
<circle cx="451.9" cy="681.4" r="2.50" fill="#db008a"/>
<circle cx="451.9" cy="684.6" r="2.50" fill="#ee0076"/>
<circle cx="451.9" cy="687.9" r="2.50" fill="#eb007a"/>
<circle cx="451.9" cy="691.2" r="2.50" fill="#ee0077"/>
<circle cx="453.9" cy="688.2" r="2.50" fill="#ed0077"/>
<circle cx="456.1" cy="684.6" r="2.50" fill="#e10085"/>
<circle cx="458.3" cy="687.1" r="2.50" fill="#d20091"/>
<circle cx="358.2" cy="686.0" r="2.50" fill="#8443c6"/>
<circle cx="363.3" cy="686.0" r="2.50" fill="#8443c6"/>
<circle cx="369.4" cy="686.0" r="2.50" fill="#8443c6"/>
<circle cx="386.8" cy="724.5" r="2.50" fill="#0086fa"/>
<circle cx="389.0" cy="721.0" r="2.50" fill="#0080f7"/>
<circle cx="389.0" cy="725.9" r="2.50" fill="#0086f9"/>
<circle cx="391.0" cy="720.2" r="2.50" fill="#007df6"/>
<circle cx="391.0" cy="723.4" r="2.50" fill="#007cf5"/>
<circle cx="391.0" cy="726.6" r="2.50" fill="#007ef6"/>
<circle cx="393.0" cy="719.3" r="2.50" fill="#0079f3"/>
<circle cx="393.0" cy="722.3" r="2.50" fill="#0076f1"/>
<circle cx="393.0" cy="725.3" r="2.50" fill="#0079f3"/>
<circle cx="393.0" cy="728.3" r="2.50" fill="#0079f3"/>
<circle cx="395.0" cy="718.6" r="2.50" fill="#0072ef"/>
<circle cx="395.0" cy="721.6" r="2.50" fill="#0074f0"/>
<circle cx="395.0" cy="724.5" r="2.50" fill="#166eeb"/>
<circle cx="395.0" cy="727.5" r="2.50" fill="#0079f3"/>
<circle cx="397.0" cy="717.3" r="2.50" fill="#4864e4"/>
<circle cx="397.0" cy="720.6" r="2.50" fill="#605adb"/>
<circle cx="397.0" cy="724.0" r="2.50" fill="#6359da"/>
<circle cx="397.0" cy="727.3" r="2.50" fill="#575fdf"/>
<circle cx="397.0" cy="730.6" r="2.50" fill="#3f67e6"/>
<circle cx="399.0" cy="719.2" r="2.50" fill="#216ceb"/>
<circle cx="399.0" cy="723.4" r="2.50" fill="#3968e7"/>
<circle cx="399.0" cy="727.6" r="2.50" fill="#3669e8"/>
<circle cx="401.0" cy="718.2" r="2.50" fill="#0079f3"/>
<circle cx="401.0" cy="721.8" r="2.50" fill="#007df5"/>
<circle cx="401.0" cy="725.4" r="2.50" fill="#007bf5"/>
<circle cx="401.0" cy="729.1" r="2.50" fill="#0074f0"/>
<circle cx="403.0" cy="720.0" r="2.50" fill="#0079f3"/>
<circle cx="403.0" cy="723.5" r="2.50" fill="#0072ef"/>
<circle cx="403.0" cy="726.9" r="2.50" fill="#0077f2"/>
<circle cx="405.0" cy="721.1" r="2.50" fill="#0071ee"/>
<circle cx="405.0" cy="725.9" r="2.50" fill="#0073f0"/>
<circle cx="406.2" cy="724.5" r="2.50" fill="#8b3cc0"/>
<circle cx="408.4" cy="722.5" r="2.50" fill="#8e38bc"/>
<circle cx="410.6" cy="724.5" r="2.50" fill="#a31daa"/>
<circle cx="412.8" cy="722.5" r="2.50" fill="#ac14a6"/>
<circle cx="415.0" cy="724.5" r="2.50" fill="#972ab2"/>
<circle cx="417.2" cy="722.5" r="2.50" fill="#952db4"/>
<circle cx="419.4" cy="724.5" r="2.50" fill="#ba00a0"/>
<circle cx="421.6" cy="722.5" r="2.50" fill="#b10ea4"/>
<circle cx="423.8" cy="724.5" r="2.50" fill="#9c23ad"/>
<circle cx="426.0" cy="722.5" r="2.50" fill="#9c23ad"/>
<circle cx="428.2" cy="724.5" r="2.50" fill="#be009e"/>
<circle cx="430.4" cy="722.5" r="2.50" fill="#952eb4"/>
<circle cx="432.6" cy="724.5" r="2.50" fill="#c90097"/>
<circle cx="434.8" cy="722.5" r="2.50" fill="#ae12a6"/>
<circle cx="437.0" cy="724.5" r="2.50" fill="#b10ea4"/>
<circle cx="452.2" cy="711.7" r="2.50" fill="#fc0060"/>
<circle cx="452.2" cy="715.0" r="2.50" fill="#eb007a"/>
<circle cx="452.2" cy="718.4" r="2.50" fill="#fd005f"/>
<circle cx="452.2" cy="721.8" r="2.50" fill="#f20071"/>
<circle cx="452.2" cy="725.1" r="2.50" fill="#f20071"/>
<circle cx="452.2" cy="728.5" r="2.50" fill="#fc0061"/>
<circle cx="452.2" cy="731.9" r="2.50" fill="#ed0078"/>
<circle cx="452.2" cy="735.3" r="2.50" fill="#f3006f"/>
<circle cx="438.0" cy="724.6" r="2.50" fill="#ee0077"/>
<circle cx="440.2" cy="721.8" r="2.50" fill="#e20083"/>
<circle cx="442.4" cy="725.5" r="2.50" fill="#df0086"/>
<circle cx="444.6" cy="720.8" r="2.50" fill="#ee0076"/>
<circle cx="444.6" cy="723.5" r="2.50" fill="#f80068"/>
<circle cx="444.6" cy="726.1" r="2.50" fill="#f5006e"/>
<circle cx="446.6" cy="721.6" r="2.50" fill="#e9007c"/>
<circle cx="446.6" cy="725.2" r="2.50" fill="#f90067"/>
<circle cx="448.6" cy="719.9" r="2.50" fill="#f3006f"/>
<circle cx="448.6" cy="723.1" r="2.50" fill="#ef0075"/>
<circle cx="448.6" cy="726.3" r="2.50" fill="#e8007e"/>
<circle cx="450.6" cy="719.1" r="2.50" fill="#fe005d"/>
<circle cx="450.6" cy="723.1" r="2.50" fill="#f4006e"/>
<circle cx="450.6" cy="727.1" r="2.50" fill="#eb007a"/>
<circle cx="452.6" cy="719.8" r="2.50" fill="#f30070"/>
<circle cx="452.6" cy="723.2" r="2.50" fill="#ef0076"/>
<circle cx="452.6" cy="726.6" r="2.50" fill="#d4008f"/>
<circle cx="454.6" cy="719.9" r="2.50" fill="#ee0077"/>
<circle cx="454.6" cy="723.1" r="2.50" fill="#f6006b"/>
<circle cx="454.6" cy="726.3" r="2.50" fill="#c1009c"/>
<circle cx="456.6" cy="720.8" r="2.50" fill="#c0009d"/>
<circle cx="456.6" cy="723.5" r="2.50" fill="#ea007b"/>
<circle cx="456.6" cy="726.2" r="2.50" fill="#de0087"/>
<circle cx="458.6" cy="721.0" r="2.50" fill="#dc0089"/>
<circle cx="458.6" cy="725.9" r="2.50" fill="#df0087"/>
<circle cx="460.6" cy="721.3" r="2.50" fill="#cc0095"/>
<circle cx="462.8" cy="725.2" r="2.50" fill="#ce0094"/>
<circle cx="474.7" cy="723.5" r="2.50" fill="#c80098"/>
<circle cx="481.8" cy="723.5" r="2.50" fill="#bb00a0"/>
<circle cx="377.0" cy="762.2" r="2.50" fill="#0081f7"/>
<circle cx="379.2" cy="758.9" r="2.50" fill="#0084f9"/>
<circle cx="381.4" cy="757.6" r="2.50" fill="#0087fa"/>
<circle cx="381.4" cy="760.5" r="2.50" fill="#0086fa"/>
<circle cx="381.4" cy="763.5" r="2.50" fill="#0087fa"/>
<circle cx="383.4" cy="757.1" r="2.50" fill="#0082f8"/>
<circle cx="383.4" cy="760.0" r="2.50" fill="#0081f7"/>
<circle cx="383.4" cy="762.9" r="2.50" fill="#0083f8"/>
<circle cx="383.4" cy="765.8" r="2.50" fill="#007af4"/>
<circle cx="385.4" cy="757.7" r="2.50" fill="#0081f7"/>
<circle cx="385.4" cy="760.9" r="2.50" fill="#007df6"/>
<circle cx="385.4" cy="764.0" r="2.50" fill="#007df5"/>
<circle cx="387.4" cy="758.6" r="2.50" fill="#0081f7"/>
<circle cx="387.4" cy="763.3" r="2.50" fill="#007cf5"/>
<circle cx="389.4" cy="762.8" r="2.50" fill="#007af4"/>
<circle cx="391.6" cy="759.3" r="2.50" fill="#0077f2"/>
<circle cx="393.8" cy="762.4" r="2.50" fill="#0075f1"/>
<circle cx="396.0" cy="759.1" r="2.50" fill="#0070ed"/>
<circle cx="398.2" cy="758.4" r="2.50" fill="#0079f3"/>
<circle cx="398.2" cy="763.5" r="2.50" fill="#0073f0"/>
<circle cx="400.2" cy="758.0" r="2.50" fill="#0083f8"/>
<circle cx="400.2" cy="760.9" r="2.50" fill="#0082f8"/>
<circle cx="400.2" cy="763.9" r="2.50" fill="#008afb"/>
<circle cx="402.2" cy="758.0" r="2.50" fill="#0084f9"/>
<circle cx="402.2" cy="760.9" r="2.50" fill="#007df5"/>
<circle cx="402.2" cy="763.9" r="2.50" fill="#0082f8"/>
<circle cx="404.2" cy="758.6" r="2.50" fill="#0080f7"/>
<circle cx="404.2" cy="763.3" r="2.50" fill="#0081f7"/>
<circle cx="405.9" cy="761.4" r="2.50" fill="#ec0078"/>
<circle cx="409.3" cy="761.0" r="2.50" fill="#e60080"/>
<circle cx="413.2" cy="760.5" r="2.50" fill="#dc0089"/>
<circle cx="417.1" cy="761.4" r="2.50" fill="#d20091"/>
<circle cx="420.5" cy="760.3" r="2.50" fill="#9f20ab"/>
<circle cx="424.0" cy="759.9" r="2.50" fill="#bb009f"/>
<circle cx="426.2" cy="762.3" r="2.50" fill="#b703a1"/>
<circle cx="428.4" cy="759.2" r="2.50" fill="#a61aa9"/>
<circle cx="430.6" cy="762.9" r="2.50" fill="#a41ca9"/>
<circle cx="432.8" cy="759.1" r="2.50" fill="#9f20ac"/>
<circle cx="435.0" cy="762.3" r="2.50" fill="#a31daa"/>
<circle cx="437.2" cy="759.9" r="2.50" fill="#9829b1"/>
<circle cx="443.5" cy="748.8" r="2.50" fill="#fe005e"/>
<circle cx="443.5" cy="752.3" r="2.50" fill="#f30070"/>
<circle cx="443.5" cy="755.7" r="2.50" fill="#ef0075"/>
<circle cx="443.5" cy="759.2" r="2.50" fill="#fe005e"/>
<circle cx="443.5" cy="762.7" r="2.50" fill="#fb0062"/>
<circle cx="443.5" cy="766.1" r="2.50" fill="#f80068"/>
<circle cx="443.5" cy="769.6" r="2.50" fill="#fc0061"/>
<circle cx="443.5" cy="773.0" r="2.50" fill="#fd005f"/>
<circle cx="439.0" cy="762.2" r="2.50" fill="#ff0051"/>
<circle cx="441.2" cy="759.4" r="2.50" fill="#f80068"/>
<circle cx="443.4" cy="762.4" r="2.50" fill="#fe005e"/>
<circle cx="445.6" cy="759.4" r="2.50" fill="#ff0058"/>
<circle cx="447.8" cy="762.4" r="2.50" fill="#fc0060"/>
<circle cx="450.0" cy="759.8" r="2.50" fill="#f6006c"/>
</g>
<line x1="133" x2="591" y1="800" y2="800" stroke="#333" stroke-width="1.25"/>
<g stroke="#333" stroke-width="1">
<line x1="147.5" x2="147.5" y1="800" y2="804.5"/><line x1="216.3" x2="216.3" y1="800" y2="804.5"/><line x1="285.0" x2="285.0" y1="800" y2="804.5"/><line x1="353.8" x2="353.8" y1="800" y2="804.5"/><line x1="422.5" x2="422.5" y1="800" y2="804.5"/><line x1="491.2" x2="491.2" y1="800" y2="804.5"/><line x1="560.0" x2="560.0" y1="800" y2="804.5"/>
</g>
<text transform="translate(126.75 818.40) scale(1.1173 1)" font-size="14.66" fill="#444" stroke="#444" stroke-width="0.10">−0.08</text>
<text transform="translate(195.45 818.40) scale(1.1198 1)" font-size="14.66" fill="#444" stroke="#444" stroke-width="0.10">−0.06</text>
<text transform="translate(264.15 818.40) scale(1.1164 1)" font-size="14.66" fill="#444" stroke="#444" stroke-width="0.10">−0.04</text>
<text transform="translate(333.20 818.40) scale(1.1081 1)" font-size="14.66" fill="#444" stroke="#444" stroke-width="0.10">−0.02</text>
<text transform="translate(407.47 818.40) scale(1.0545 1)" font-size="14.66" fill="#444" stroke="#444" stroke-width="0.10">0.00</text>
<text transform="translate(476.43 818.40) scale(1.0458 1)" font-size="14.66" fill="#444" stroke="#444" stroke-width="0.10">0.02</text>
<text transform="translate(544.87 818.40) scale(1.0573 1)" font-size="14.66" fill="#444" stroke="#444" stroke-width="0.10">0.04</text>
<text transform="translate(207.65 839.50) scale(1.0721 1)" font-size="17.25" fill="#2a2a2a" stroke="#2a2a2a" stroke-width="0.18">SHAP value (impact on model output)</text>
<g>
<text transform="translate(16.06 56.00) scale(1.0349 1)" font-size="17.43" fill="#444" stroke="#444" stroke-width="0.30">Feature 31</text>
<text transform="translate(5.19 93.48) scale(1.0415 1)" font-size="17.43" fill="#444" stroke="#444" stroke-width="0.30">Feature 240</text>
<text transform="translate(5.60 130.96) scale(1.0395 1)" font-size="17.43" fill="#444" stroke="#444" stroke-width="0.30">Feature 241</text>
<text transform="translate(5.19 168.44) scale(1.0428 1)" font-size="17.43" fill="#444" stroke="#444" stroke-width="0.30">Feature 199</text>
<text transform="translate(5.19 205.92) scale(1.0415 1)" font-size="17.43" fill="#444" stroke="#444" stroke-width="0.30">Feature 120</text>
<text transform="translate(5.50 243.40) scale(1.0394 1)" font-size="17.43" fill="#444" stroke="#444" stroke-width="0.30">Feature 225</text>
<text transform="translate(5.08 280.88) scale(1.0439 1)" font-size="17.43" fill="#444" stroke="#444" stroke-width="0.30">Feature 126</text>
<text transform="translate(5.50 318.36) scale(1.0394 1)" font-size="17.43" fill="#444" stroke="#444" stroke-width="0.30">Feature 195</text>
<text transform="translate(15.96 355.84) scale(1.0337 1)" font-size="17.44" fill="#444" stroke="#444" stroke-width="0.30">Feature 15</text>
<text transform="translate(15.65 393.32) scale(1.0372 1)" font-size="17.43" fill="#444" stroke="#444" stroke-width="0.30">Feature 60</text>
<text transform="translate(5.50 430.80) scale(1.0394 1)" font-size="17.43" fill="#444" stroke="#444" stroke-width="0.30">Feature 135</text>
<text transform="translate(5.50 468.28) scale(1.0407 1)" font-size="17.43" fill="#444" stroke="#444" stroke-width="0.30">Feature 127</text>
<text transform="translate(4.98 505.76) scale(1.0425 1)" font-size="17.43" fill="#444" stroke="#444" stroke-width="0.30">Feature 124</text>
<text transform="translate(26.11 543.24) scale(1.0316 1)" font-size="17.43" fill="#444" stroke="#444" stroke-width="0.30">Feature 0</text>
<text transform="translate(5.40 580.72) scale(1.0405 1)" font-size="17.43" fill="#444" stroke="#444" stroke-width="0.30">Feature 253</text>
<text transform="translate(15.55 618.20) scale(1.0398 1)" font-size="17.43" fill="#444" stroke="#444" stroke-width="0.30">Feature 56</text>
<text transform="translate(15.65 655.68) scale(1.0372 1)" font-size="17.43" fill="#444" stroke="#444" stroke-width="0.30">Feature 30</text>
<text transform="translate(5.19 693.16) scale(1.0428 1)" font-size="17.43" fill="#444" stroke="#444" stroke-width="0.30">Feature 209</text>
<text transform="translate(5.19 730.64) scale(1.0428 1)" font-size="17.43" fill="#444" stroke="#444" stroke-width="0.30">Feature 248</text>
<text transform="translate(16.17 768.12) scale(1.0337 1)" font-size="17.43" fill="#444" stroke="#444" stroke-width="0.30">Feature 62</text>
</g>
<rect x="620" y="12" width="9" height="787" fill="url(#cb)"/>
<text transform="translate(634.16 16.90) scale(1.0503 1)" font-size="14.51" fill="#222" stroke="#222" stroke-width="0.30">High</text>
<text transform="translate(634.13 805.00) scale(0.9770 1)" font-size="14.68" fill="#222" stroke="#222" stroke-width="0.30">Low</text>
<g transform="translate(676.3 406.5) rotate(-90)"><text transform="translate(-51.63 0.00) scale(1.0600 1)" font-size="15.84" fill="#222" stroke="#222" stroke-width="0.30">Feature value</text></g>
</svg>
</body></html>
